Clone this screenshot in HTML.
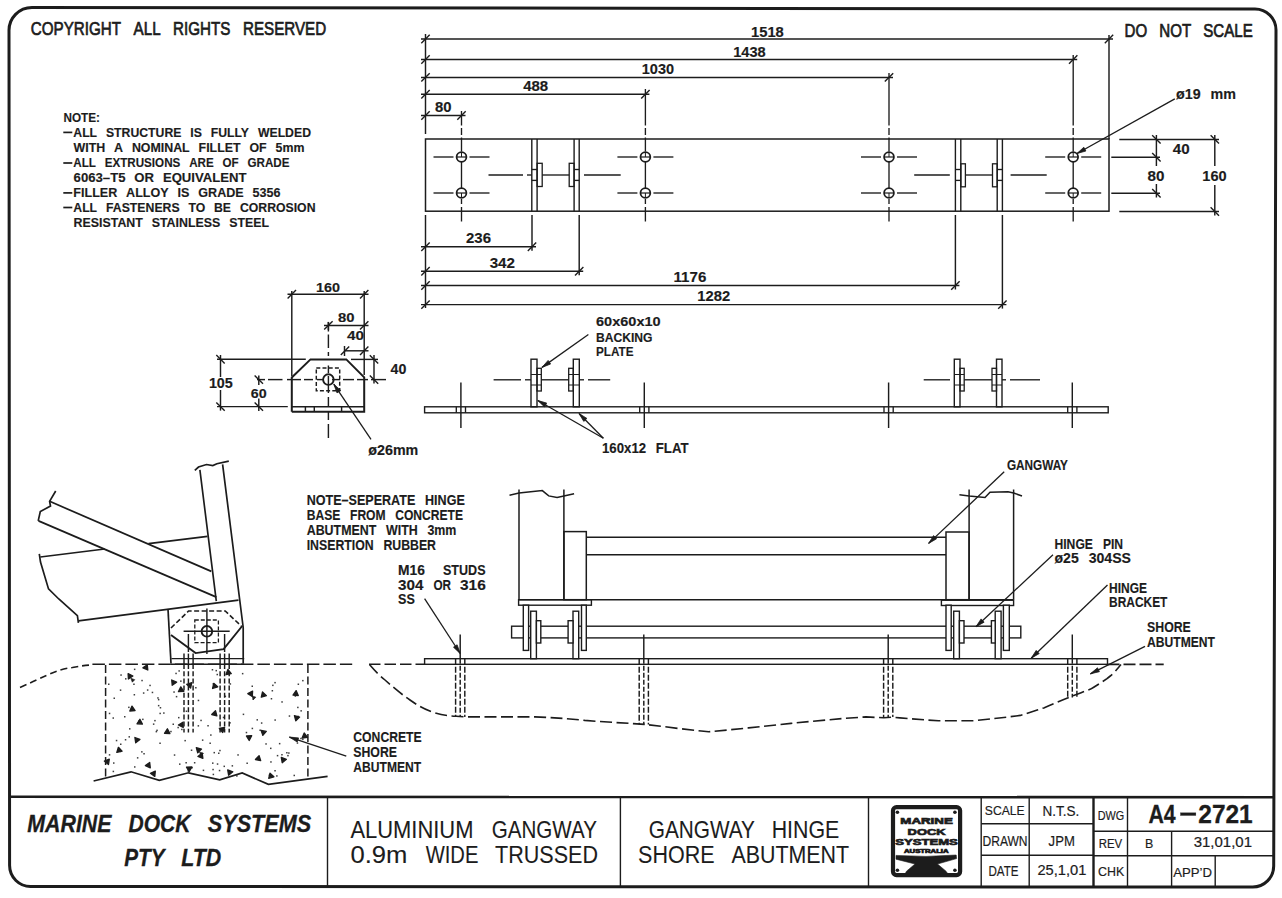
<!DOCTYPE html>
<html><head><meta charset="utf-8"><style>
html,body{margin:0;padding:0;background:#fff;overflow:hidden;width:1282px;height:898px;}
svg{display:block;}
text{font-family:"Liberation Sans",sans-serif;fill:#1c1c1c;}
</style></head><body>
<svg width="1282" height="898" viewBox="0 0 1282 898" stroke-linecap="butt">
<rect width="1282" height="898" fill="#fff"/>
<path d="M9,31 A23,23 0 0 1 32,7.5 L1255,9 A21,21 0 0 1 1276,30 L1273.7,866 A21,21 0 0 1 1252.7,887 L31,886.5 A21,21 0 0 1 9.6,865.5 Z" stroke-width="3" fill="none" stroke="#1c1c1c"/>
<line x1="9.0" y1="796.8" x2="1274.5" y2="797.2" stroke-width="2.6" stroke="#1c1c1c"/>
<line x1="327.5" y1="797.0" x2="327.5" y2="887.0" stroke-width="1.4" stroke="#1c1c1c"/>
<line x1="620.4" y1="797.0" x2="620.4" y2="887.0" stroke-width="1.4" stroke="#1c1c1c"/>
<line x1="868.5" y1="797.0" x2="868.5" y2="887.0" stroke-width="1.4" stroke="#1c1c1c"/>
<line x1="981.2" y1="797.0" x2="981.2" y2="887.0" stroke-width="1.4" stroke="#1c1c1c"/>
<line x1="1029.2" y1="797.0" x2="1029.2" y2="887.0" stroke-width="1.4" stroke="#1c1c1c"/>
<line x1="1127.5" y1="797.0" x2="1127.5" y2="887.0" stroke-width="1.4" stroke="#1c1c1c"/>
<line x1="1093.5" y1="797.0" x2="1093.5" y2="887.0" stroke-width="2.4" stroke="#1c1c1c"/>
<line x1="1171.6" y1="831.2" x2="1171.6" y2="887.0" stroke-width="1.4" stroke="#1c1c1c"/>
<line x1="1215.2" y1="855.8" x2="1215.2" y2="887.0" stroke-width="1.4" stroke="#1c1c1c"/>
<line x1="981.2" y1="823.8" x2="1093.5" y2="823.8" stroke-width="1.4" stroke="#1c1c1c"/>
<line x1="981.2" y1="855.2" x2="1093.5" y2="855.2" stroke-width="1.4" stroke="#1c1c1c"/>
<line x1="1093.5" y1="831.2" x2="1274.0" y2="831.2" stroke-width="1.4" stroke="#1c1c1c"/>
<line x1="1093.5" y1="855.8" x2="1274.0" y2="855.8" stroke-width="1.4" stroke="#1c1c1c"/>
<text x="27.3" y="831.7" font-size="24.02" font-weight="bold" font-style="italic" textLength="84.2" lengthAdjust="spacingAndGlyphs" stroke="#1c1c1c" stroke-width="0.3">MARINE</text>
<text x="128.5" y="831.7" font-size="24.02" font-weight="bold" font-style="italic" textLength="62.0" lengthAdjust="spacingAndGlyphs" stroke="#1c1c1c" stroke-width="0.3">DOCK</text>
<text x="207.8" y="831.7" font-size="24.02" font-weight="bold" font-style="italic" textLength="103.4" lengthAdjust="spacingAndGlyphs" stroke="#1c1c1c" stroke-width="0.3">SYSTEMS</text>
<text x="124.2" y="866.0" font-size="24.44" font-weight="bold" font-style="italic" textLength="40.3" lengthAdjust="spacingAndGlyphs" stroke="#1c1c1c" stroke-width="0.3">PTY</text>
<text x="181.3" y="866.0" font-size="24.44" font-weight="bold" font-style="italic" textLength="40.0" lengthAdjust="spacingAndGlyphs" stroke="#1c1c1c" stroke-width="0.3">LTD</text>
<text x="350.4" y="837.9" font-size="24.02" font-weight="normal" font-style="normal" textLength="123.0" lengthAdjust="spacingAndGlyphs" stroke="#1c1c1c" stroke-width="0.1">ALUMINIUM</text>
<text x="491.8" y="837.9" font-size="24.02" font-weight="normal" font-style="normal" textLength="105.1" lengthAdjust="spacingAndGlyphs" stroke="#1c1c1c" stroke-width="0.1">GANGWAY</text>
<text x="350.4" y="863.4" font-size="24.02" font-weight="normal" font-style="normal" textLength="57.0" lengthAdjust="spacingAndGlyphs" stroke="#1c1c1c" stroke-width="0.1">0.9m</text>
<text x="425.7" y="863.4" font-size="24.02" font-weight="normal" font-style="normal" textLength="52.7" lengthAdjust="spacingAndGlyphs" stroke="#1c1c1c" stroke-width="0.1">WIDE</text>
<text x="495.1" y="863.4" font-size="24.02" font-weight="normal" font-style="normal" textLength="102.9" lengthAdjust="spacingAndGlyphs" stroke="#1c1c1c" stroke-width="0.1">TRUSSED</text>
<text x="648.8" y="838.2" font-size="24.02" font-weight="normal" font-style="normal" textLength="106.1" lengthAdjust="spacingAndGlyphs" stroke="#1c1c1c" stroke-width="0.1">GANGWAY</text>
<text x="771.7" y="838.2" font-size="24.02" font-weight="normal" font-style="normal" textLength="67.5" lengthAdjust="spacingAndGlyphs" stroke="#1c1c1c" stroke-width="0.1">HINGE</text>
<text x="638.1" y="863.4" font-size="24.02" font-weight="normal" font-style="normal" textLength="76.4" lengthAdjust="spacingAndGlyphs" stroke="#1c1c1c" stroke-width="0.1">SHORE</text>
<text x="731.4" y="863.4" font-size="24.02" font-weight="normal" font-style="normal" textLength="117.7" lengthAdjust="spacingAndGlyphs" stroke="#1c1c1c" stroke-width="0.1">ABUTMENT</text>
<text x="984.8" y="815.4" font-size="13.69" font-weight="normal" font-style="normal" textLength="39.8" lengthAdjust="spacingAndGlyphs" stroke="#1c1c1c" stroke-width="0.2">SCALE</text>
<text x="1042.5" y="816.2" font-size="15.22" font-weight="normal" font-style="normal" textLength="36.8" lengthAdjust="spacingAndGlyphs" stroke="#1c1c1c" stroke-width="0.2">N.T.S.</text>
<text x="982.5" y="845.6" font-size="15.22" font-weight="normal" font-style="normal" textLength="45.0" lengthAdjust="spacingAndGlyphs" stroke="#1c1c1c" stroke-width="0.2">DRAWN</text>
<text x="1048.6" y="845.6" font-size="15.36" font-weight="normal" font-style="normal" textLength="26.2" lengthAdjust="spacingAndGlyphs" stroke="#1c1c1c" stroke-width="0.2">JPM</text>
<text x="988.5" y="876.0" font-size="14.66" font-weight="normal" font-style="normal" textLength="30.0" lengthAdjust="spacingAndGlyphs" stroke="#1c1c1c" stroke-width="0.2">DATE</text>
<text x="1037.4" y="875.4" font-size="14.66" font-weight="normal" font-style="normal" textLength="49.0" lengthAdjust="spacingAndGlyphs" stroke="#1c1c1c" stroke-width="0.2">25,1,01</text>
<text x="1097.7" y="819.6" font-size="13.27" font-weight="normal" font-style="normal" textLength="26.5" lengthAdjust="spacingAndGlyphs" stroke="#1c1c1c" stroke-width="0.2">DWG</text>
<text x="1148.4" y="822.7" font-size="25.00" font-weight="bold" font-style="normal" textLength="27.2" lengthAdjust="spacingAndGlyphs" stroke="#1c1c1c" stroke-width="0.3">A4</text>
<rect x="1180.7" y="812.9" width="15.1" height="2.4" stroke-width="0.5" fill="#1c1c1c" stroke="#1c1c1c"/>
<text x="1198.3" y="822.7" font-size="25.00" font-weight="bold" font-style="normal" textLength="54.4" lengthAdjust="spacingAndGlyphs" stroke="#1c1c1c" stroke-width="0.3">2721</text>
<text x="1098.7" y="848.2" font-size="13.69" font-weight="normal" font-style="normal" textLength="23.5" lengthAdjust="spacingAndGlyphs" stroke="#1c1c1c" stroke-width="0.2">REV</text>
<text x="1145.0" y="848.2" font-size="12.85" font-weight="normal" font-style="normal" textLength="8.3" lengthAdjust="spacingAndGlyphs" stroke="#1c1c1c" stroke-width="0.2">B</text>
<text x="1193.7" y="846.8" font-size="14.25" font-weight="normal" font-style="normal" textLength="58.3" lengthAdjust="spacingAndGlyphs" stroke="#1c1c1c" stroke-width="0.2">31,01,01</text>
<text x="1098.0" y="876.2" font-size="13.69" font-weight="normal" font-style="normal" textLength="26.2" lengthAdjust="spacingAndGlyphs" stroke="#1c1c1c" stroke-width="0.2">CHK</text>
<text x="1173.3" y="876.9" font-size="13.69" font-weight="normal" font-style="normal" textLength="38.7" lengthAdjust="spacingAndGlyphs" stroke="#1c1c1c" stroke-width="0.2">APP&#8217;D</text>
<rect x="893" y="807.1" width="67.1" height="68" rx="3.5" fill="none" stroke="#1c1c1c" stroke-width="4.2"/>
<circle cx="897.4" cy="812.3" r="1.8" stroke-width="0" fill="#1c1c1c" stroke="#1c1c1c"/>
<circle cx="954.9" cy="812.3" r="1.8" stroke-width="0" fill="#1c1c1c" stroke="#1c1c1c"/>
<circle cx="897.4" cy="870.3" r="1.8" stroke-width="0" fill="#1c1c1c" stroke="#1c1c1c"/>
<circle cx="954.9" cy="870.3" r="1.8" stroke-width="0" fill="#1c1c1c" stroke="#1c1c1c"/>
<text x="900.3" y="824.4" font-size="9.08" font-weight="bold" textLength="52.5" lengthAdjust="spacingAndGlyphs" stroke="#1c1c1c" stroke-width="0.7">MARINE</text>
<text x="907.6" y="834.9" font-size="9.08" font-weight="bold" textLength="37.9" lengthAdjust="spacingAndGlyphs" stroke="#1c1c1c" stroke-width="0.7">DOCK</text>
<text x="895.3" y="845.1" font-size="9.08" font-weight="bold" textLength="62.5" lengthAdjust="spacingAndGlyphs" stroke="#1c1c1c" stroke-width="0.7">SYSTEMS</text>
<text x="904" y="853.3" font-size="5.45" font-weight="bold" textLength="44.6" lengthAdjust="spacingAndGlyphs" stroke="#1c1c1c" stroke-width="0.7">AUSTRALIA</text>
<path d="M896,855.4 L926,856.4 L956.2,855 L956.6,858.6 L937.5,864 L946,871.2 L948,874 L905,874 L906.5,871.2 L915,864 L896,859.2 Z" stroke-width="0.6" fill="#1c1c1c" stroke="#1c1c1c"/>
<text x="30.8" y="35.0" font-size="18.44" font-weight="normal" font-style="normal" textLength="90.2" lengthAdjust="spacingAndGlyphs" stroke="#1c1c1c" stroke-width="0.7">COPYRIGHT</text>
<text x="133.6" y="35.0" font-size="18.44" font-weight="normal" font-style="normal" textLength="27.0" lengthAdjust="spacingAndGlyphs" stroke="#1c1c1c" stroke-width="0.7">ALL</text>
<text x="173.1" y="35.0" font-size="18.44" font-weight="normal" font-style="normal" textLength="57.3" lengthAdjust="spacingAndGlyphs" stroke="#1c1c1c" stroke-width="0.7">RIGHTS</text>
<text x="243.0" y="35.0" font-size="18.44" font-weight="normal" font-style="normal" textLength="83.2" lengthAdjust="spacingAndGlyphs" stroke="#1c1c1c" stroke-width="0.7">RESERVED</text>
<text x="1124.5" y="36.6" font-size="17.88" font-weight="normal" font-style="normal" textLength="22.6" lengthAdjust="spacingAndGlyphs" stroke="#1c1c1c" stroke-width="0.7">DO</text>
<text x="1159.3" y="36.6" font-size="17.88" font-weight="normal" font-style="normal" textLength="31.9" lengthAdjust="spacingAndGlyphs" stroke="#1c1c1c" stroke-width="0.7">NOT</text>
<text x="1203.3" y="36.6" font-size="17.88" font-weight="normal" font-style="normal" textLength="49.5" lengthAdjust="spacingAndGlyphs" stroke="#1c1c1c" stroke-width="0.7">SCALE</text>
<text x="63.5" y="121.8" font-size="12.99" font-weight="bold" font-style="normal" textLength="36.5" lengthAdjust="spacingAndGlyphs" stroke="#1c1c1c" stroke-width="0.15">NOTE:</text>
<text x="73.3" y="136.7" font-size="12.99" font-weight="bold" font-style="normal" textLength="23.8" lengthAdjust="spacingAndGlyphs" stroke="#1c1c1c" stroke-width="0.15">ALL</text>
<text x="105.9" y="136.7" font-size="12.99" font-weight="bold" font-style="normal" textLength="75.5" lengthAdjust="spacingAndGlyphs" stroke="#1c1c1c" stroke-width="0.15">STRUCTURE</text>
<text x="190.3" y="136.7" font-size="12.99" font-weight="bold" font-style="normal" textLength="11.6" lengthAdjust="spacingAndGlyphs" stroke="#1c1c1c" stroke-width="0.15">IS</text>
<text x="210.7" y="136.7" font-size="12.99" font-weight="bold" font-style="normal" textLength="38.3" lengthAdjust="spacingAndGlyphs" stroke="#1c1c1c" stroke-width="0.15">FULLY</text>
<text x="257.9" y="136.7" font-size="12.99" font-weight="bold" font-style="normal" textLength="53.1" lengthAdjust="spacingAndGlyphs" stroke="#1c1c1c" stroke-width="0.15">WELDED</text>
<line x1="63.3" y1="132.4" x2="72.3" y2="132.4" stroke-width="1.7" stroke="#1c1c1c"/>
<text x="73.6" y="152.0" font-size="12.99" font-weight="bold" font-style="normal" textLength="31.7" lengthAdjust="spacingAndGlyphs" stroke="#1c1c1c" stroke-width="0.15">WITH</text>
<text x="114.1" y="152.0" font-size="12.99" font-weight="bold" font-style="normal" textLength="9.0" lengthAdjust="spacingAndGlyphs" stroke="#1c1c1c" stroke-width="0.15">A</text>
<text x="131.9" y="152.0" font-size="12.99" font-weight="bold" font-style="normal" textLength="57.8" lengthAdjust="spacingAndGlyphs" stroke="#1c1c1c" stroke-width="0.15">NOMINAL</text>
<text x="198.6" y="152.0" font-size="12.99" font-weight="bold" font-style="normal" textLength="42.0" lengthAdjust="spacingAndGlyphs" stroke="#1c1c1c" stroke-width="0.15">FILLET</text>
<text x="249.4" y="152.0" font-size="12.99" font-weight="bold" font-style="normal" textLength="17.2" lengthAdjust="spacingAndGlyphs" stroke="#1c1c1c" stroke-width="0.15">OF</text>
<text x="275.5" y="152.0" font-size="12.99" font-weight="bold" font-style="normal" textLength="28.9" lengthAdjust="spacingAndGlyphs" stroke="#1c1c1c" stroke-width="0.15">5mm</text>
<text x="73.3" y="167.3" font-size="12.99" font-weight="bold" font-style="normal" textLength="22.6" lengthAdjust="spacingAndGlyphs" stroke="#1c1c1c" stroke-width="0.15">ALL</text>
<text x="104.7" y="167.3" font-size="12.99" font-weight="bold" font-style="normal" textLength="75.6" lengthAdjust="spacingAndGlyphs" stroke="#1c1c1c" stroke-width="0.15">EXTRUSIONS</text>
<text x="189.2" y="167.3" font-size="12.99" font-weight="bold" font-style="normal" textLength="24.5" lengthAdjust="spacingAndGlyphs" stroke="#1c1c1c" stroke-width="0.15">ARE</text>
<text x="222.5" y="167.3" font-size="12.99" font-weight="bold" font-style="normal" textLength="16.1" lengthAdjust="spacingAndGlyphs" stroke="#1c1c1c" stroke-width="0.15">OF</text>
<text x="247.5" y="167.3" font-size="12.99" font-weight="bold" font-style="normal" textLength="42.0" lengthAdjust="spacingAndGlyphs" stroke="#1c1c1c" stroke-width="0.15">GRADE</text>
<line x1="63.3" y1="163.0" x2="72.3" y2="163.0" stroke-width="1.7" stroke="#1c1c1c"/>
<text x="73.6" y="181.9" font-size="12.99" font-weight="bold" font-style="normal" textLength="51.9" lengthAdjust="spacingAndGlyphs" stroke="#1c1c1c" stroke-width="0.15">6063&#8211;T5</text>
<text x="134.3" y="181.9" font-size="12.99" font-weight="bold" font-style="normal" textLength="19.7" lengthAdjust="spacingAndGlyphs" stroke="#1c1c1c" stroke-width="0.15">OR</text>
<text x="162.9" y="181.9" font-size="12.99" font-weight="bold" font-style="normal" textLength="83.7" lengthAdjust="spacingAndGlyphs" stroke="#1c1c1c" stroke-width="0.15">EQUIVALENT</text>
<text x="73.3" y="197.2" font-size="12.99" font-weight="bold" font-style="normal" textLength="44.0" lengthAdjust="spacingAndGlyphs" stroke="#1c1c1c" stroke-width="0.15">FILLER</text>
<text x="126.1" y="197.2" font-size="12.99" font-weight="bold" font-style="normal" textLength="42.6" lengthAdjust="spacingAndGlyphs" stroke="#1c1c1c" stroke-width="0.15">ALLOY</text>
<text x="177.6" y="197.2" font-size="12.99" font-weight="bold" font-style="normal" textLength="11.9" lengthAdjust="spacingAndGlyphs" stroke="#1c1c1c" stroke-width="0.15">IS</text>
<text x="198.3" y="197.2" font-size="12.99" font-weight="bold" font-style="normal" textLength="45.4" lengthAdjust="spacingAndGlyphs" stroke="#1c1c1c" stroke-width="0.15">GRADE</text>
<text x="252.5" y="197.2" font-size="12.99" font-weight="bold" font-style="normal" textLength="28.0" lengthAdjust="spacingAndGlyphs" stroke="#1c1c1c" stroke-width="0.15">5356</text>
<line x1="63.3" y1="192.9" x2="72.3" y2="192.9" stroke-width="1.7" stroke="#1c1c1c"/>
<text x="73.3" y="211.8" font-size="12.99" font-weight="bold" font-style="normal" textLength="23.8" lengthAdjust="spacingAndGlyphs" stroke="#1c1c1c" stroke-width="0.15">ALL</text>
<text x="106.0" y="211.8" font-size="12.99" font-weight="bold" font-style="normal" textLength="73.6" lengthAdjust="spacingAndGlyphs" stroke="#1c1c1c" stroke-width="0.15">FASTENERS</text>
<text x="188.4" y="211.8" font-size="12.99" font-weight="bold" font-style="normal" textLength="16.8" lengthAdjust="spacingAndGlyphs" stroke="#1c1c1c" stroke-width="0.15">TO</text>
<text x="214.0" y="211.8" font-size="12.99" font-weight="bold" font-style="normal" textLength="17.0" lengthAdjust="spacingAndGlyphs" stroke="#1c1c1c" stroke-width="0.15">BE</text>
<text x="239.9" y="211.8" font-size="12.99" font-weight="bold" font-style="normal" textLength="75.6" lengthAdjust="spacingAndGlyphs" stroke="#1c1c1c" stroke-width="0.15">CORROSION</text>
<line x1="63.3" y1="207.5" x2="72.3" y2="207.5" stroke-width="1.7" stroke="#1c1c1c"/>
<text x="73.6" y="226.7" font-size="12.99" font-weight="bold" font-style="normal" textLength="69.3" lengthAdjust="spacingAndGlyphs" stroke="#1c1c1c" stroke-width="0.15">RESISTANT</text>
<text x="151.7" y="226.7" font-size="12.99" font-weight="bold" font-style="normal" textLength="68.6" lengthAdjust="spacingAndGlyphs" stroke="#1c1c1c" stroke-width="0.15">STAINLESS</text>
<text x="229.2" y="226.7" font-size="12.99" font-weight="bold" font-style="normal" textLength="39.9" lengthAdjust="spacingAndGlyphs" stroke="#1c1c1c" stroke-width="0.15">STEEL</text>
<rect x="425.5" y="139.0" width="683.5" height="72.2" stroke-width="1.5" fill="none" stroke="#1c1c1c"/>
<line x1="531.8" y1="139.0" x2="531.8" y2="211.2" stroke-width="1.4" stroke="#1c1c1c"/>
<line x1="537.1" y1="139.0" x2="537.1" y2="211.2" stroke-width="1.4" stroke="#1c1c1c"/>
<line x1="574.1" y1="139.0" x2="574.1" y2="211.2" stroke-width="1.4" stroke="#1c1c1c"/>
<line x1="579.2" y1="139.0" x2="579.2" y2="211.2" stroke-width="1.4" stroke="#1c1c1c"/>
<line x1="955.4" y1="139.0" x2="955.4" y2="211.2" stroke-width="1.4" stroke="#1c1c1c"/>
<line x1="960.8" y1="139.0" x2="960.8" y2="211.2" stroke-width="1.4" stroke="#1c1c1c"/>
<line x1="997.2" y1="139.0" x2="997.2" y2="211.2" stroke-width="1.4" stroke="#1c1c1c"/>
<line x1="1002.4" y1="139.0" x2="1002.4" y2="211.2" stroke-width="1.4" stroke="#1c1c1c"/>
<rect x="537.1" y="163.3" width="5.1" height="23.2" stroke-width="1.3" fill="none" stroke="#1c1c1c"/>
<rect x="569.2" y="163.3" width="4.9" height="23.2" stroke-width="1.3" fill="none" stroke="#1c1c1c"/>
<rect x="960.8" y="163.8" width="4.6" height="23.0" stroke-width="1.3" fill="none" stroke="#1c1c1c"/>
<rect x="992.5" y="163.8" width="4.7" height="23.0" stroke-width="1.3" fill="none" stroke="#1c1c1c"/>
<line x1="531.8" y1="169.5" x2="537.1" y2="169.5" stroke-width="1.35" stroke="#1c1c1c"/>
<line x1="531.8" y1="180.4" x2="537.1" y2="180.4" stroke-width="1.35" stroke="#1c1c1c"/>
<line x1="574.1" y1="169.5" x2="579.2" y2="169.5" stroke-width="1.35" stroke="#1c1c1c"/>
<line x1="574.1" y1="180.4" x2="579.2" y2="180.4" stroke-width="1.35" stroke="#1c1c1c"/>
<line x1="955.4" y1="169.5" x2="960.8" y2="169.5" stroke-width="1.35" stroke="#1c1c1c"/>
<line x1="955.4" y1="180.4" x2="960.8" y2="180.4" stroke-width="1.35" stroke="#1c1c1c"/>
<line x1="997.2" y1="169.5" x2="1002.4" y2="169.5" stroke-width="1.35" stroke="#1c1c1c"/>
<line x1="997.2" y1="180.4" x2="1002.4" y2="180.4" stroke-width="1.35" stroke="#1c1c1c"/>
<line x1="488.5" y1="175.0" x2="523.0" y2="175.0" stroke-width="1.35" stroke="#1c1c1c"/>
<line x1="527.0" y1="175.0" x2="531.8" y2="175.0" stroke-width="1.35" stroke="#1c1c1c"/>
<line x1="542.2" y1="175.0" x2="569.2" y2="175.0" stroke-width="1.35" stroke="#1c1c1c"/>
<line x1="584.0" y1="175.0" x2="620.7" y2="175.0" stroke-width="1.35" stroke="#1c1c1c"/>
<line x1="914.2" y1="175.0" x2="949.8" y2="175.0" stroke-width="1.35" stroke="#1c1c1c"/>
<line x1="965.4" y1="175.0" x2="992.5" y2="175.0" stroke-width="1.35" stroke="#1c1c1c"/>
<line x1="1010.6" y1="175.0" x2="1046.7" y2="175.0" stroke-width="1.35" stroke="#1c1c1c"/>
<circle cx="461.5" cy="157.0" r="4.9" stroke-width="1.8" fill="none" stroke="#1c1c1c"/>
<line x1="456.7" y1="157.0" x2="466.3" y2="157.0" stroke-width="1.2" stroke="#1c1c1c"/>
<line x1="461.5" y1="157.0" x2="461.5" y2="152.2" stroke-width="1.0" stroke="#1c1c1c"/>
<line x1="433.5" y1="157.0" x2="453.5" y2="157.0" stroke-width="1.35" stroke="#1c1c1c"/>
<line x1="469.5" y1="157.0" x2="489.5" y2="157.0" stroke-width="1.35" stroke="#1c1c1c"/>
<circle cx="461.5" cy="193.0" r="4.9" stroke-width="1.8" fill="none" stroke="#1c1c1c"/>
<line x1="456.7" y1="193.0" x2="466.3" y2="193.0" stroke-width="1.2" stroke="#1c1c1c"/>
<line x1="461.5" y1="193.0" x2="461.5" y2="197.8" stroke-width="1.0" stroke="#1c1c1c"/>
<line x1="433.5" y1="193.0" x2="453.5" y2="193.0" stroke-width="1.35" stroke="#1c1c1c"/>
<line x1="469.5" y1="193.0" x2="489.5" y2="193.0" stroke-width="1.35" stroke="#1c1c1c"/>
<line x1="461.5" y1="161.9" x2="461.5" y2="188.1" stroke-width="1.35" stroke="#1c1c1c"/>
<line x1="461.5" y1="128.0" x2="461.5" y2="135.0" stroke-width="1.35" stroke="#1c1c1c"/>
<line x1="461.5" y1="137.5" x2="461.5" y2="151.5" stroke-width="1.35" stroke="#1c1c1c"/>
<line x1="461.5" y1="199.0" x2="461.5" y2="204.0" stroke-width="1.35" stroke="#1c1c1c"/>
<line x1="461.5" y1="207.0" x2="461.5" y2="221.5" stroke-width="1.35" stroke="#1c1c1c"/>
<circle cx="645.4" cy="157.0" r="4.9" stroke-width="1.8" fill="none" stroke="#1c1c1c"/>
<line x1="640.6" y1="157.0" x2="650.2" y2="157.0" stroke-width="1.2" stroke="#1c1c1c"/>
<line x1="645.4" y1="157.0" x2="645.4" y2="152.2" stroke-width="1.0" stroke="#1c1c1c"/>
<line x1="617.4" y1="157.0" x2="637.4" y2="157.0" stroke-width="1.35" stroke="#1c1c1c"/>
<line x1="653.4" y1="157.0" x2="673.4" y2="157.0" stroke-width="1.35" stroke="#1c1c1c"/>
<circle cx="645.4" cy="193.0" r="4.9" stroke-width="1.8" fill="none" stroke="#1c1c1c"/>
<line x1="640.6" y1="193.0" x2="650.2" y2="193.0" stroke-width="1.2" stroke="#1c1c1c"/>
<line x1="645.4" y1="193.0" x2="645.4" y2="197.8" stroke-width="1.0" stroke="#1c1c1c"/>
<line x1="617.4" y1="193.0" x2="637.4" y2="193.0" stroke-width="1.35" stroke="#1c1c1c"/>
<line x1="653.4" y1="193.0" x2="673.4" y2="193.0" stroke-width="1.35" stroke="#1c1c1c"/>
<line x1="645.4" y1="161.9" x2="645.4" y2="188.1" stroke-width="1.35" stroke="#1c1c1c"/>
<line x1="645.4" y1="128.0" x2="645.4" y2="135.0" stroke-width="1.35" stroke="#1c1c1c"/>
<line x1="645.4" y1="137.5" x2="645.4" y2="151.5" stroke-width="1.35" stroke="#1c1c1c"/>
<line x1="645.4" y1="199.0" x2="645.4" y2="204.0" stroke-width="1.35" stroke="#1c1c1c"/>
<line x1="645.4" y1="207.0" x2="645.4" y2="221.5" stroke-width="1.35" stroke="#1c1c1c"/>
<circle cx="889.0" cy="157.0" r="4.9" stroke-width="1.8" fill="none" stroke="#1c1c1c"/>
<line x1="884.2" y1="157.0" x2="893.8" y2="157.0" stroke-width="1.2" stroke="#1c1c1c"/>
<line x1="889.0" y1="157.0" x2="889.0" y2="152.2" stroke-width="1.0" stroke="#1c1c1c"/>
<line x1="861.0" y1="157.0" x2="881.0" y2="157.0" stroke-width="1.35" stroke="#1c1c1c"/>
<line x1="897.0" y1="157.0" x2="917.0" y2="157.0" stroke-width="1.35" stroke="#1c1c1c"/>
<circle cx="889.0" cy="193.0" r="4.9" stroke-width="1.8" fill="none" stroke="#1c1c1c"/>
<line x1="884.2" y1="193.0" x2="893.8" y2="193.0" stroke-width="1.2" stroke="#1c1c1c"/>
<line x1="889.0" y1="193.0" x2="889.0" y2="197.8" stroke-width="1.0" stroke="#1c1c1c"/>
<line x1="861.0" y1="193.0" x2="881.0" y2="193.0" stroke-width="1.35" stroke="#1c1c1c"/>
<line x1="897.0" y1="193.0" x2="917.0" y2="193.0" stroke-width="1.35" stroke="#1c1c1c"/>
<line x1="889.0" y1="161.9" x2="889.0" y2="188.1" stroke-width="1.35" stroke="#1c1c1c"/>
<line x1="889.0" y1="128.0" x2="889.0" y2="135.0" stroke-width="1.35" stroke="#1c1c1c"/>
<line x1="889.0" y1="137.5" x2="889.0" y2="151.5" stroke-width="1.35" stroke="#1c1c1c"/>
<line x1="889.0" y1="199.0" x2="889.0" y2="204.0" stroke-width="1.35" stroke="#1c1c1c"/>
<line x1="889.0" y1="207.0" x2="889.0" y2="221.5" stroke-width="1.35" stroke="#1c1c1c"/>
<circle cx="1073.2" cy="157.0" r="4.9" stroke-width="1.8" fill="none" stroke="#1c1c1c"/>
<line x1="1068.4" y1="157.0" x2="1078.0" y2="157.0" stroke-width="1.2" stroke="#1c1c1c"/>
<line x1="1073.2" y1="157.0" x2="1073.2" y2="152.2" stroke-width="1.0" stroke="#1c1c1c"/>
<line x1="1045.2" y1="157.0" x2="1065.2" y2="157.0" stroke-width="1.35" stroke="#1c1c1c"/>
<line x1="1081.2" y1="157.0" x2="1101.2" y2="157.0" stroke-width="1.35" stroke="#1c1c1c"/>
<circle cx="1073.2" cy="193.0" r="4.9" stroke-width="1.8" fill="none" stroke="#1c1c1c"/>
<line x1="1068.4" y1="193.0" x2="1078.0" y2="193.0" stroke-width="1.2" stroke="#1c1c1c"/>
<line x1="1073.2" y1="193.0" x2="1073.2" y2="197.8" stroke-width="1.0" stroke="#1c1c1c"/>
<line x1="1045.2" y1="193.0" x2="1065.2" y2="193.0" stroke-width="1.35" stroke="#1c1c1c"/>
<line x1="1081.2" y1="193.0" x2="1101.2" y2="193.0" stroke-width="1.35" stroke="#1c1c1c"/>
<line x1="1073.2" y1="161.9" x2="1073.2" y2="188.1" stroke-width="1.35" stroke="#1c1c1c"/>
<line x1="1073.2" y1="128.0" x2="1073.2" y2="135.0" stroke-width="1.35" stroke="#1c1c1c"/>
<line x1="1073.2" y1="137.5" x2="1073.2" y2="151.5" stroke-width="1.35" stroke="#1c1c1c"/>
<line x1="1073.2" y1="199.0" x2="1073.2" y2="204.0" stroke-width="1.35" stroke="#1c1c1c"/>
<line x1="1073.2" y1="207.0" x2="1073.2" y2="221.5" stroke-width="1.35" stroke="#1c1c1c"/>
<line x1="425.5" y1="34.0" x2="425.5" y2="134.0" stroke-width="1.45" stroke="#1c1c1c"/>
<line x1="421.0" y1="39.0" x2="1113.0" y2="39.0" stroke-width="1.45" stroke="#1c1c1c"/>
<line x1="421.3" y1="43.2" x2="429.7" y2="34.8" stroke-width="1.4" stroke="#1c1c1c"/>
<line x1="1104.8" y1="43.2" x2="1113.2" y2="34.8" stroke-width="1.4" stroke="#1c1c1c"/>
<text x="751.0" y="36.5" font-size="14.53" font-weight="bold" font-style="normal" textLength="32.8" lengthAdjust="spacingAndGlyphs" stroke="#1c1c1c" stroke-width="0.15">1518</text>
<line x1="421.0" y1="59.5" x2="1077.2" y2="59.5" stroke-width="1.45" stroke="#1c1c1c"/>
<line x1="421.3" y1="63.7" x2="429.7" y2="55.3" stroke-width="1.4" stroke="#1c1c1c"/>
<line x1="1069.0" y1="63.7" x2="1077.4" y2="55.3" stroke-width="1.4" stroke="#1c1c1c"/>
<text x="733.2" y="57.1" font-size="14.53" font-weight="bold" font-style="normal" textLength="32.5" lengthAdjust="spacingAndGlyphs" stroke="#1c1c1c" stroke-width="0.15">1438</text>
<line x1="421.0" y1="77.4" x2="893.0" y2="77.4" stroke-width="1.45" stroke="#1c1c1c"/>
<line x1="421.3" y1="81.6" x2="429.7" y2="73.2" stroke-width="1.4" stroke="#1c1c1c"/>
<line x1="884.8" y1="81.6" x2="893.2" y2="73.2" stroke-width="1.4" stroke="#1c1c1c"/>
<text x="641.8" y="74.3" font-size="14.53" font-weight="bold" font-style="normal" textLength="32.2" lengthAdjust="spacingAndGlyphs" stroke="#1c1c1c" stroke-width="0.15">1030</text>
<line x1="421.0" y1="94.3" x2="649.4" y2="94.3" stroke-width="1.45" stroke="#1c1c1c"/>
<line x1="421.3" y1="98.5" x2="429.7" y2="90.1" stroke-width="1.4" stroke="#1c1c1c"/>
<line x1="641.2" y1="98.5" x2="649.6" y2="90.1" stroke-width="1.4" stroke="#1c1c1c"/>
<text x="523.2" y="90.8" font-size="14.53" font-weight="bold" font-style="normal" textLength="25.0" lengthAdjust="spacingAndGlyphs" stroke="#1c1c1c" stroke-width="0.15">488</text>
<line x1="421.0" y1="115.5" x2="465.5" y2="115.5" stroke-width="1.45" stroke="#1c1c1c"/>
<line x1="421.3" y1="119.7" x2="429.7" y2="111.3" stroke-width="1.4" stroke="#1c1c1c"/>
<line x1="457.3" y1="119.7" x2="465.7" y2="111.3" stroke-width="1.4" stroke="#1c1c1c"/>
<text x="435.0" y="111.8" font-size="14.53" font-weight="bold" font-style="normal" textLength="16.5" lengthAdjust="spacingAndGlyphs" stroke="#1c1c1c" stroke-width="0.15">80</text>
<line x1="1109.0" y1="35.0" x2="1109.0" y2="139.0" stroke-width="1.45" stroke="#1c1c1c"/>
<line x1="1073.2" y1="55.0" x2="1073.2" y2="125.5" stroke-width="1.35" stroke="#1c1c1c"/>
<line x1="889.0" y1="73.0" x2="889.0" y2="125.5" stroke-width="1.35" stroke="#1c1c1c"/>
<line x1="645.4" y1="89.0" x2="645.4" y2="125.5" stroke-width="1.35" stroke="#1c1c1c"/>
<line x1="461.5" y1="111.0" x2="461.5" y2="125.5" stroke-width="1.35" stroke="#1c1c1c"/>
<line x1="425.5" y1="215.0" x2="425.5" y2="308.0" stroke-width="1.45" stroke="#1c1c1c"/>
<line x1="421.0" y1="246.7" x2="536.0" y2="246.7" stroke-width="1.45" stroke="#1c1c1c"/>
<line x1="421.3" y1="250.9" x2="429.7" y2="242.5" stroke-width="1.4" stroke="#1c1c1c"/>
<line x1="527.8" y1="250.9" x2="536.2" y2="242.5" stroke-width="1.4" stroke="#1c1c1c"/>
<line x1="532.0" y1="215.0" x2="532.0" y2="250.7" stroke-width="1.45" stroke="#1c1c1c"/>
<text x="466.0" y="243.0" font-size="14.53" font-weight="bold" font-style="normal" textLength="25.0" lengthAdjust="spacingAndGlyphs" stroke="#1c1c1c" stroke-width="0.15">236</text>
<line x1="421.0" y1="271.2" x2="583.2" y2="271.2" stroke-width="1.45" stroke="#1c1c1c"/>
<line x1="421.3" y1="275.4" x2="429.7" y2="267.0" stroke-width="1.4" stroke="#1c1c1c"/>
<line x1="575.0" y1="275.4" x2="583.4" y2="267.0" stroke-width="1.4" stroke="#1c1c1c"/>
<line x1="579.2" y1="215.0" x2="579.2" y2="275.2" stroke-width="1.45" stroke="#1c1c1c"/>
<text x="489.7" y="267.6" font-size="14.53" font-weight="bold" font-style="normal" textLength="25.3" lengthAdjust="spacingAndGlyphs" stroke="#1c1c1c" stroke-width="0.15">342</text>
<line x1="421.0" y1="285.5" x2="959.4" y2="285.5" stroke-width="1.45" stroke="#1c1c1c"/>
<line x1="421.3" y1="289.7" x2="429.7" y2="281.3" stroke-width="1.4" stroke="#1c1c1c"/>
<line x1="951.2" y1="289.7" x2="959.6" y2="281.3" stroke-width="1.4" stroke="#1c1c1c"/>
<line x1="955.4" y1="215.0" x2="955.4" y2="289.5" stroke-width="1.45" stroke="#1c1c1c"/>
<text x="673.5" y="281.7" font-size="14.53" font-weight="bold" font-style="normal" textLength="32.8" lengthAdjust="spacingAndGlyphs" stroke="#1c1c1c" stroke-width="0.15">1176</text>
<line x1="421.0" y1="304.6" x2="1006.4" y2="304.6" stroke-width="1.45" stroke="#1c1c1c"/>
<line x1="421.3" y1="308.8" x2="429.7" y2="300.4" stroke-width="1.4" stroke="#1c1c1c"/>
<line x1="998.2" y1="308.8" x2="1006.6" y2="300.4" stroke-width="1.4" stroke="#1c1c1c"/>
<line x1="1002.4" y1="215.0" x2="1002.4" y2="308.6" stroke-width="1.45" stroke="#1c1c1c"/>
<text x="697.3" y="301.1" font-size="14.53" font-weight="bold" font-style="normal" textLength="32.9" lengthAdjust="spacingAndGlyphs" stroke="#1c1c1c" stroke-width="0.15">1282</text>
<line x1="1119.3" y1="139.4" x2="1219.0" y2="139.4" stroke-width="1.45" stroke="#1c1c1c"/>
<line x1="1119.3" y1="211.5" x2="1219.0" y2="211.5" stroke-width="1.45" stroke="#1c1c1c"/>
<line x1="1111.3" y1="157.3" x2="1160.0" y2="157.3" stroke-width="1.45" stroke="#1c1c1c"/>
<line x1="1111.3" y1="193.2" x2="1160.0" y2="193.2" stroke-width="1.45" stroke="#1c1c1c"/>
<line x1="1156.4" y1="135.0" x2="1156.4" y2="166.0" stroke-width="1.45" stroke="#1c1c1c"/>
<line x1="1156.4" y1="184.0" x2="1156.4" y2="197.5" stroke-width="1.45" stroke="#1c1c1c"/>
<line x1="1152.2" y1="135.2" x2="1160.6" y2="143.6" stroke-width="1.4" stroke="#1c1c1c"/>
<line x1="1152.2" y1="153.1" x2="1160.6" y2="161.5" stroke-width="1.4" stroke="#1c1c1c"/>
<line x1="1152.2" y1="189.0" x2="1160.6" y2="197.4" stroke-width="1.4" stroke="#1c1c1c"/>
<line x1="1214.8" y1="135.0" x2="1214.8" y2="166.0" stroke-width="1.45" stroke="#1c1c1c"/>
<line x1="1214.8" y1="185.0" x2="1214.8" y2="215.5" stroke-width="1.45" stroke="#1c1c1c"/>
<line x1="1210.6" y1="135.2" x2="1219.0" y2="143.6" stroke-width="1.4" stroke="#1c1c1c"/>
<line x1="1210.6" y1="207.3" x2="1219.0" y2="215.7" stroke-width="1.4" stroke="#1c1c1c"/>
<text x="1172.7" y="153.7" font-size="14.11" font-weight="bold" font-style="normal" textLength="16.9" lengthAdjust="spacingAndGlyphs" stroke="#1c1c1c" stroke-width="0.15">40</text>
<text x="1147.5" y="180.7" font-size="14.25" font-weight="bold" font-style="normal" textLength="16.9" lengthAdjust="spacingAndGlyphs" stroke="#1c1c1c" stroke-width="0.15">80</text>
<text x="1202.3" y="180.7" font-size="14.25" font-weight="bold" font-style="normal" textLength="24.3" lengthAdjust="spacingAndGlyphs" stroke="#1c1c1c" stroke-width="0.15">160</text>
<line x1="1174.8" y1="98.9" x2="1077.0" y2="153.5" stroke-width="1.3" stroke="#1c1c1c"/>
<path d="M1077.0,153.5 L1083.8,147.2 L1085.9,151.0 Z" fill="#1c1c1c" stroke="#1c1c1c" stroke-width="0.8"/>
<text x="1176.0" y="99.4" font-size="14.39" font-weight="bold" font-style="normal" textLength="24.6" lengthAdjust="spacingAndGlyphs" stroke="#1c1c1c" stroke-width="0.15">&#248;19</text>
<text x="1210.6" y="99.4" font-size="14.39" font-weight="bold" font-style="normal" textLength="25.4" lengthAdjust="spacingAndGlyphs" stroke="#1c1c1c" stroke-width="0.15">mm</text>
<path d="M291.8,411.8 L291.8,377.5 L310.5,359.4 L346.3,359.4 L364.2,377.3 L364.2,411.8 L291.8,411.8" stroke-width="2" fill="none" stroke="#1c1c1c"/>
<line x1="291.8" y1="406.8" x2="364.2" y2="406.8" stroke-width="1.6" stroke="#1c1c1c"/>
<line x1="305.4" y1="406.8" x2="305.4" y2="411.8" stroke-width="1.45" stroke="#1c1c1c"/>
<line x1="314.3" y1="406.8" x2="314.3" y2="411.8" stroke-width="1.45" stroke="#1c1c1c"/>
<line x1="341.6" y1="406.8" x2="341.6" y2="411.8" stroke-width="1.45" stroke="#1c1c1c"/>
<circle cx="328.4" cy="379.6" r="5.3" stroke-width="1.9" fill="none" stroke="#1c1c1c"/>
<rect x="316.3" y="368.0" width="23.4" height="22.8" stroke-width="1.45" fill="none" stroke="#1c1c1c" stroke-dasharray="4 2.2"/>
<line x1="257.0" y1="379.6" x2="265.0" y2="379.6" stroke-width="1.45" stroke="#1c1c1c"/>
<line x1="268.0" y1="379.6" x2="282.5" y2="379.6" stroke-width="1.45" stroke="#1c1c1c"/>
<line x1="287.0" y1="379.6" x2="301.0" y2="379.6" stroke-width="1.45" stroke="#1c1c1c"/>
<line x1="304.0" y1="379.6" x2="313.0" y2="379.6" stroke-width="1.45" stroke="#1c1c1c"/>
<line x1="317.0" y1="379.6" x2="324.0" y2="379.6" stroke-width="1.45" stroke="#1c1c1c"/>
<line x1="332.0" y1="379.6" x2="340.0" y2="379.6" stroke-width="1.45" stroke="#1c1c1c"/>
<line x1="343.0" y1="379.6" x2="354.0" y2="379.6" stroke-width="1.45" stroke="#1c1c1c"/>
<line x1="357.0" y1="379.6" x2="368.0" y2="379.6" stroke-width="1.45" stroke="#1c1c1c"/>
<line x1="371.0" y1="379.6" x2="386.0" y2="379.6" stroke-width="1.45" stroke="#1c1c1c"/>
<line x1="328.4" y1="321.9" x2="328.4" y2="331.5" stroke-width="1.45" stroke="#1c1c1c"/>
<line x1="328.4" y1="334.5" x2="328.4" y2="348.0" stroke-width="1.45" stroke="#1c1c1c"/>
<line x1="328.4" y1="352.0" x2="328.4" y2="356.0" stroke-width="1.45" stroke="#1c1c1c"/>
<line x1="328.4" y1="365.5" x2="328.4" y2="373.0" stroke-width="1.45" stroke="#1c1c1c"/>
<line x1="328.4" y1="376.0" x2="328.4" y2="393.0" stroke-width="1.45" stroke="#1c1c1c"/>
<line x1="328.4" y1="397.0" x2="328.4" y2="406.0" stroke-width="1.45" stroke="#1c1c1c"/>
<line x1="328.4" y1="411.0" x2="328.4" y2="420.0" stroke-width="1.45" stroke="#1c1c1c"/>
<line x1="328.4" y1="424.0" x2="328.4" y2="438.0" stroke-width="1.45" stroke="#1c1c1c"/>
<line x1="291.8" y1="291.0" x2="291.8" y2="376.0" stroke-width="1.45" stroke="#1c1c1c"/>
<line x1="364.2" y1="291.0" x2="364.2" y2="375.0" stroke-width="1.45" stroke="#1c1c1c"/>
<line x1="287.5" y1="294.3" x2="368.5" y2="294.3" stroke-width="1.45" stroke="#1c1c1c"/>
<line x1="287.6" y1="298.5" x2="296.0" y2="290.1" stroke-width="1.4" stroke="#1c1c1c"/>
<line x1="360.0" y1="298.5" x2="368.4" y2="290.1" stroke-width="1.4" stroke="#1c1c1c"/>
<text x="316.0" y="291.8" font-size="13.41" font-weight="bold" font-style="normal" textLength="24.0" lengthAdjust="spacingAndGlyphs" stroke="#1c1c1c" stroke-width="0.15">160</text>
<line x1="328.4" y1="322.0" x2="328.4" y2="330.0" stroke-width="1.45" stroke="#1c1c1c"/>
<line x1="324.0" y1="325.4" x2="368.5" y2="325.4" stroke-width="1.45" stroke="#1c1c1c"/>
<line x1="324.2" y1="329.6" x2="332.6" y2="321.2" stroke-width="1.4" stroke="#1c1c1c"/>
<line x1="360.0" y1="329.6" x2="368.4" y2="321.2" stroke-width="1.4" stroke="#1c1c1c"/>
<text x="338.0" y="321.9" font-size="12.57" font-weight="bold" font-style="normal" textLength="16.5" lengthAdjust="spacingAndGlyphs" stroke="#1c1c1c" stroke-width="0.15">80</text>
<line x1="344.5" y1="346.0" x2="344.5" y2="356.0" stroke-width="1.45" stroke="#1c1c1c"/>
<line x1="344.5" y1="350.8" x2="368.5" y2="350.8" stroke-width="1.45" stroke="#1c1c1c"/>
<line x1="340.8" y1="355.0" x2="349.2" y2="346.6" stroke-width="1.4" stroke="#1c1c1c"/>
<line x1="360.0" y1="355.0" x2="368.4" y2="346.6" stroke-width="1.4" stroke="#1c1c1c"/>
<text x="347.0" y="340.3" font-size="13.13" font-weight="bold" font-style="normal" textLength="17.0" lengthAdjust="spacingAndGlyphs" stroke="#1c1c1c" stroke-width="0.15">40</text>
<line x1="351.0" y1="359.4" x2="378.0" y2="359.4" stroke-width="1.45" stroke="#1c1c1c"/>
<line x1="374.0" y1="355.0" x2="374.0" y2="383.5" stroke-width="1.45" stroke="#1c1c1c"/>
<line x1="369.8" y1="355.2" x2="378.2" y2="363.6" stroke-width="1.4" stroke="#1c1c1c"/>
<line x1="369.8" y1="375.4" x2="378.2" y2="383.8" stroke-width="1.4" stroke="#1c1c1c"/>
<text x="390.5" y="373.7" font-size="13.97" font-weight="bold" font-style="normal" textLength="15.8" lengthAdjust="spacingAndGlyphs" stroke="#1c1c1c" stroke-width="0.15">40</text>
<line x1="217.0" y1="359.3" x2="305.8" y2="359.3" stroke-width="1.45" stroke="#1c1c1c"/>
<line x1="217.0" y1="406.6" x2="287.8" y2="406.6" stroke-width="1.45" stroke="#1c1c1c"/>
<line x1="220.5" y1="355.0" x2="220.5" y2="377.0" stroke-width="1.45" stroke="#1c1c1c"/>
<line x1="220.5" y1="390.0" x2="220.5" y2="410.6" stroke-width="1.45" stroke="#1c1c1c"/>
<line x1="216.3" y1="355.1" x2="224.7" y2="363.5" stroke-width="1.4" stroke="#1c1c1c"/>
<line x1="216.3" y1="402.4" x2="224.7" y2="410.8" stroke-width="1.4" stroke="#1c1c1c"/>
<text x="208.9" y="388.0" font-size="14.66" font-weight="bold" font-style="normal" textLength="23.9" lengthAdjust="spacingAndGlyphs" stroke="#1c1c1c" stroke-width="0.15">105</text>
<line x1="258.8" y1="375.6" x2="258.8" y2="385.0" stroke-width="1.45" stroke="#1c1c1c"/>
<line x1="258.8" y1="398.5" x2="258.8" y2="411.0" stroke-width="1.45" stroke="#1c1c1c"/>
<line x1="254.6" y1="375.4" x2="263.0" y2="383.8" stroke-width="1.4" stroke="#1c1c1c"/>
<line x1="254.6" y1="402.4" x2="263.0" y2="410.8" stroke-width="1.4" stroke="#1c1c1c"/>
<text x="250.8" y="398.0" font-size="12.43" font-weight="bold" font-style="normal" textLength="15.9" lengthAdjust="spacingAndGlyphs" stroke="#1c1c1c" stroke-width="0.15">60</text>
<line x1="371.0" y1="439.3" x2="333.8" y2="384.2" stroke-width="1.3" stroke="#1c1c1c"/>
<path d="M333.8,384.2 L340.7,390.4 L337.0,392.9 Z" fill="#1c1c1c" stroke="#1c1c1c" stroke-width="0.8"/>
<text x="368.3" y="454.8" font-size="13.97" font-weight="bold" font-style="normal" textLength="50.0" lengthAdjust="spacingAndGlyphs" stroke="#1c1c1c" stroke-width="0.15">&#248;26mm</text>
<rect x="424.6" y="406.8" width="683.6" height="6.0" stroke-width="1.4" fill="none" stroke="#1c1c1c"/>
<line x1="460.9" y1="382.5" x2="460.9" y2="428.0" stroke-width="1.45" stroke="#1c1c1c"/>
<line x1="456.3" y1="406.8" x2="456.3" y2="412.8" stroke-width="1.35" stroke="#1c1c1c"/>
<line x1="465.5" y1="406.8" x2="465.5" y2="412.8" stroke-width="1.35" stroke="#1c1c1c"/>
<line x1="644.3" y1="382.5" x2="644.3" y2="428.0" stroke-width="1.45" stroke="#1c1c1c"/>
<line x1="639.7" y1="406.8" x2="639.7" y2="412.8" stroke-width="1.35" stroke="#1c1c1c"/>
<line x1="648.9" y1="406.8" x2="648.9" y2="412.8" stroke-width="1.35" stroke="#1c1c1c"/>
<line x1="888.6" y1="382.5" x2="888.6" y2="428.0" stroke-width="1.45" stroke="#1c1c1c"/>
<line x1="884.0" y1="406.8" x2="884.0" y2="412.8" stroke-width="1.35" stroke="#1c1c1c"/>
<line x1="893.2" y1="406.8" x2="893.2" y2="412.8" stroke-width="1.35" stroke="#1c1c1c"/>
<line x1="1072.3" y1="382.5" x2="1072.3" y2="428.0" stroke-width="1.45" stroke="#1c1c1c"/>
<line x1="1067.7" y1="406.8" x2="1067.7" y2="412.8" stroke-width="1.35" stroke="#1c1c1c"/>
<line x1="1076.9" y1="406.8" x2="1076.9" y2="412.8" stroke-width="1.35" stroke="#1c1c1c"/>
<rect x="531.0" y="359.2" width="6.0" height="47.6" stroke-width="1.4" fill="none" stroke="#1c1c1c"/>
<rect x="537.0" y="368.3" width="4.3" height="22.7" stroke-width="1.3" fill="none" stroke="#1c1c1c"/>
<line x1="531.0" y1="374.5" x2="541.3" y2="374.5" stroke-width="1.0" stroke="#1c1c1c"/>
<line x1="531.0" y1="385.0" x2="541.3" y2="385.0" stroke-width="1.0" stroke="#1c1c1c"/>
<rect x="573.3" y="359.2" width="6.0" height="47.6" stroke-width="1.4" fill="none" stroke="#1c1c1c"/>
<rect x="568.7" y="368.3" width="4.6" height="22.7" stroke-width="1.3" fill="none" stroke="#1c1c1c"/>
<line x1="568.7" y1="374.5" x2="579.3" y2="374.5" stroke-width="1.0" stroke="#1c1c1c"/>
<line x1="568.7" y1="385.0" x2="579.3" y2="385.0" stroke-width="1.0" stroke="#1c1c1c"/>
<rect x="954.3" y="359.2" width="5.7" height="47.6" stroke-width="1.4" fill="none" stroke="#1c1c1c"/>
<rect x="960.0" y="368.3" width="4.2" height="22.7" stroke-width="1.3" fill="none" stroke="#1c1c1c"/>
<line x1="954.3" y1="374.5" x2="964.2" y2="374.5" stroke-width="1.0" stroke="#1c1c1c"/>
<line x1="954.3" y1="385.0" x2="964.2" y2="385.0" stroke-width="1.0" stroke="#1c1c1c"/>
<rect x="996.5" y="359.2" width="5.5" height="47.6" stroke-width="1.4" fill="none" stroke="#1c1c1c"/>
<rect x="992.0" y="368.3" width="4.5" height="22.7" stroke-width="1.3" fill="none" stroke="#1c1c1c"/>
<line x1="992.0" y1="374.5" x2="1002.0" y2="374.5" stroke-width="1.0" stroke="#1c1c1c"/>
<line x1="992.0" y1="385.0" x2="1002.0" y2="385.0" stroke-width="1.0" stroke="#1c1c1c"/>
<line x1="493.6" y1="379.8" x2="521.0" y2="379.8" stroke-width="1.35" stroke="#1c1c1c"/>
<line x1="525.0" y1="379.8" x2="531.0" y2="379.8" stroke-width="1.35" stroke="#1c1c1c"/>
<line x1="541.3" y1="379.8" x2="568.7" y2="379.8" stroke-width="1.35" stroke="#1c1c1c"/>
<line x1="579.3" y1="379.8" x2="584.0" y2="379.8" stroke-width="1.35" stroke="#1c1c1c"/>
<line x1="588.0" y1="379.8" x2="610.2" y2="379.8" stroke-width="1.35" stroke="#1c1c1c"/>
<line x1="923.7" y1="379.8" x2="950.0" y2="379.8" stroke-width="1.35" stroke="#1c1c1c"/>
<line x1="964.2" y1="379.8" x2="992.0" y2="379.8" stroke-width="1.35" stroke="#1c1c1c"/>
<line x1="1002.0" y1="379.8" x2="1006.0" y2="379.8" stroke-width="1.35" stroke="#1c1c1c"/>
<line x1="1010.0" y1="379.8" x2="1040.0" y2="379.8" stroke-width="1.35" stroke="#1c1c1c"/>
<line x1="588.4" y1="334.5" x2="542.0" y2="367.4" stroke-width="1.3" stroke="#1c1c1c"/>
<path d="M542.0,367.4 L548.1,360.4 L550.6,364.0 Z" fill="#1c1c1c" stroke="#1c1c1c" stroke-width="0.8"/>
<text x="596.0" y="326.3" font-size="13.27" font-weight="bold" font-style="normal" textLength="64.7" lengthAdjust="spacingAndGlyphs" stroke="#1c1c1c" stroke-width="0.15">60x60x10</text>
<text x="596.0" y="341.6" font-size="13.27" font-weight="bold" font-style="normal" textLength="56.5" lengthAdjust="spacingAndGlyphs" stroke="#1c1c1c" stroke-width="0.15">BACKING</text>
<text x="596.0" y="356.3" font-size="13.27" font-weight="bold" font-style="normal" textLength="37.5" lengthAdjust="spacingAndGlyphs" stroke="#1c1c1c" stroke-width="0.15">PLATE</text>
<line x1="603.4" y1="438.2" x2="537.8" y2="400.5" stroke-width="1.3" stroke="#1c1c1c"/>
<path d="M537.8,400.5 L546.7,403.1 L544.5,406.9 Z" fill="#1c1c1c" stroke="#1c1c1c" stroke-width="0.8"/>
<line x1="603.4" y1="438.2" x2="579.0" y2="413.5" stroke-width="1.3" stroke="#1c1c1c"/>
<path d="M579.0,413.5 L586.9,418.4 L583.8,421.4 Z" fill="#1c1c1c" stroke="#1c1c1c" stroke-width="0.8"/>
<text x="602.0" y="452.5" font-size="14.66" font-weight="bold" font-style="normal" textLength="44.1" lengthAdjust="spacingAndGlyphs" stroke="#1c1c1c" stroke-width="0.15">160x12</text>
<text x="655.8" y="452.5" font-size="14.66" font-weight="bold" font-style="normal" textLength="32.7" lengthAdjust="spacingAndGlyphs" stroke="#1c1c1c" stroke-width="0.15">FLAT</text>
<path d="M194.8,470.4 L198.5,467.0 L206.5,464.5 L212.8,465.5 L216.9,463.7 L228.8,461.2" stroke-width="1.7" fill="none" stroke="#1c1c1c"/>
<line x1="199.9" y1="469.8" x2="216.3" y2="601.2" stroke-width="1.7" stroke="#1c1c1c"/>
<path d="M222.6,464.3 L243.2,627.5 L243.2,663.5" stroke-width="1.7" fill="none" stroke="#1c1c1c"/>
<path d="M55.7,491.0 L49.6,501.3 L50.5,506.0 L40.3,511.6 L38.2,520.9" stroke-width="1.7" fill="none" stroke="#1c1c1c"/>
<line x1="49.6" y1="501.3" x2="211.3" y2="571.4" stroke-width="1.7" stroke="#1c1c1c"/>
<line x1="38.5" y1="520.9" x2="216.4" y2="597.1" stroke-width="1.7" stroke="#1c1c1c"/>
<line x1="40.3" y1="557.0" x2="104.7" y2="549.0" stroke-width="1.7" stroke="#1c1c1c"/>
<line x1="148.5" y1="543.6" x2="207.5" y2="536.4" stroke-width="1.7" stroke="#1c1c1c"/>
<line x1="78.4" y1="620.8" x2="238.5" y2="600.1" stroke-width="1.7" stroke="#1c1c1c"/>
<path d="M39.3,553.9 L40.5,562.0 L48.5,588.9 L58.8,599.0 L77.4,615.7 L78.4,622.9" stroke-width="1.7" fill="none" stroke="#1c1c1c"/>
<line x1="168.0" y1="609.2" x2="171.0" y2="663.5" stroke-width="1.7" stroke="#1c1c1c"/>
<path d="M171.0,635.0 L195.6,653.1 L223.6,649.1 L242.2,626.0" stroke-width="1.9" fill="none" stroke="#1c1c1c"/>
<path d="M171.0,628.0 L188.6,611.0 L225.2,611.0 L241.2,626.0" stroke-width="1.6" fill="none" stroke-dasharray="5 2.5" stroke="#1c1c1c"/>
<rect x="194.8" y="620.0" width="23.6" height="22.6" stroke-width="1.3" fill="none" stroke="#1c1c1c" stroke-dasharray="4 2"/>
<circle cx="206.9" cy="631.3" r="5.3" stroke-width="1.9" fill="none" stroke="#1c1c1c"/>
<line x1="183.6" y1="631.3" x2="229.7" y2="631.3" stroke-width="1.45" stroke="#1c1c1c"/>
<line x1="206.9" y1="608.5" x2="206.9" y2="654.1" stroke-width="1.45" stroke="#1c1c1c"/>
<line x1="188.4" y1="634.0" x2="188.4" y2="652.0" stroke-width="1.45" stroke="#1c1c1c"/>
<line x1="224.6" y1="634.0" x2="224.6" y2="652.0" stroke-width="1.45" stroke="#1c1c1c"/>
<line x1="171.5" y1="658.6" x2="244.2" y2="658.6" stroke-width="1.4" stroke="#1c1c1c"/>
<line x1="171.0" y1="664.2" x2="244.2" y2="664.2" stroke-width="1.6" stroke="#1c1c1c"/>
<line x1="184.0" y1="653.6" x2="184.0" y2="664.0" stroke-width="1.45" stroke="#1c1c1c"/>
<line x1="184.0" y1="664.0" x2="184.0" y2="732.4" stroke-width="1.45" stroke-dasharray="5 2.2" stroke="#1c1c1c"/>
<line x1="188.4" y1="653.6" x2="188.4" y2="664.0" stroke-width="1.45" stroke="#1c1c1c"/>
<line x1="188.4" y1="664.0" x2="188.4" y2="732.4" stroke-width="1.45" stroke-dasharray="5 2.2" stroke="#1c1c1c"/>
<line x1="193.1" y1="653.6" x2="193.1" y2="664.0" stroke-width="1.45" stroke="#1c1c1c"/>
<line x1="193.1" y1="664.0" x2="193.1" y2="732.4" stroke-width="1.45" stroke-dasharray="5 2.2" stroke="#1c1c1c"/>
<line x1="220.1" y1="653.6" x2="220.1" y2="664.0" stroke-width="1.45" stroke="#1c1c1c"/>
<line x1="220.1" y1="664.0" x2="220.1" y2="732.4" stroke-width="1.45" stroke-dasharray="5 2.2" stroke="#1c1c1c"/>
<line x1="224.6" y1="653.6" x2="224.6" y2="664.0" stroke-width="1.45" stroke="#1c1c1c"/>
<line x1="224.6" y1="664.0" x2="224.6" y2="732.4" stroke-width="1.45" stroke-dasharray="5 2.2" stroke="#1c1c1c"/>
<line x1="229.2" y1="653.6" x2="229.2" y2="664.0" stroke-width="1.45" stroke="#1c1c1c"/>
<line x1="229.2" y1="664.0" x2="229.2" y2="732.4" stroke-width="1.45" stroke-dasharray="5 2.2" stroke="#1c1c1c"/>
<path d="M20,687.4 C35,681 40,678 47.4,675 C58,670 65,668.5 72.4,667.5 C80,666 86,665.2 92.4,665" stroke-width="1.6" fill="none" stroke-dasharray="7 4" stroke="#1c1c1c"/>
<line x1="92.4" y1="664.2" x2="352.2" y2="664.2" stroke-width="1.6" stroke-dasharray="12.5 4" stroke="#1c1c1c"/>
<line x1="369.0" y1="664.2" x2="424.6" y2="664.2" stroke-width="1.6" stroke-dasharray="11.5 4" stroke="#1c1c1c"/>
<line x1="105.6" y1="665.0" x2="105.6" y2="777.3" stroke-width="1.5" stroke-dasharray="8 3.5" stroke="#1c1c1c"/>
<line x1="307.9" y1="665.0" x2="307.9" y2="777.0" stroke-width="1.5" stroke-dasharray="8 3.5" stroke="#1c1c1c"/>
<path d="M93.6,781.0 L131.0,771.8 L159.3,780.3 L188.5,772.8 L219.7,779.8 L242.2,773.0 L268.4,784.3 L327.6,776.4" stroke-width="1.7" fill="none" stroke="#1c1c1c"/>
<path d="M128.4,679.0 L128.1,673.6 L132.9,676.0 Z" fill="#1c1c1c" stroke="#1c1c1c" stroke-width="1.3" stroke-linejoin="round"/>
<path d="M130.8,678.2 L134.8,679.7 L132.3,682.2 Z" fill="#1c1c1c" stroke="#1c1c1c" stroke-width="0.6"/>
<path d="M147.8,670.0 L142.9,667.8 L147.3,664.7 Z" fill="#1c1c1c" stroke="#1c1c1c" stroke-width="1.3" stroke-linejoin="round"/>
<path d="M171.7,680.0 L176.6,682.2 L172.2,685.3 Z" fill="#1c1c1c" stroke="#1c1c1c" stroke-width="1.3" stroke-linejoin="round"/>
<path d="M183.8,691.4 L178.4,691.7 L180.8,686.9 Z" fill="#1c1c1c" stroke="#1c1c1c" stroke-width="1.3" stroke-linejoin="round"/>
<path d="M186.7,684.3 L191.8,682.7 L190.6,688.0 Z" fill="#1c1c1c" stroke="#1c1c1c" stroke-width="1.3" stroke-linejoin="round"/>
<path d="M212.6,688.5 L213.7,683.3 L217.7,686.8 Z" fill="#1c1c1c" stroke="#1c1c1c" stroke-width="1.3" stroke-linejoin="round"/>
<path d="M231.3,673.6 L226.0,674.5 L227.9,669.4 Z" fill="#1c1c1c" stroke="#1c1c1c" stroke-width="1.3" stroke-linejoin="round"/>
<path d="M247.8,693.6 L252.6,691.1 L252.3,696.5 Z" fill="#1c1c1c" stroke="#1c1c1c" stroke-width="1.3" stroke-linejoin="round"/>
<path d="M251.9,695.7 L255.9,697.2 L253.4,699.7 Z" fill="#1c1c1c" stroke="#1c1c1c" stroke-width="0.6"/>
<path d="M266.4,695.7 L261.3,697.2 L262.5,692.0 Z" fill="#1c1c1c" stroke="#1c1c1c" stroke-width="1.3" stroke-linejoin="round"/>
<path d="M293.0,695.0 L296.1,690.6 L298.3,695.5 Z" fill="#1c1c1c" stroke="#1c1c1c" stroke-width="1.3" stroke-linejoin="round"/>
<path d="M135.1,710.5 L129.8,711.0 L132.0,706.1 Z" fill="#1c1c1c" stroke="#1c1c1c" stroke-width="1.3" stroke-linejoin="round"/>
<path d="M142.4,724.1 L137.0,723.8 L139.9,719.3 Z" fill="#1c1c1c" stroke="#1c1c1c" stroke-width="1.3" stroke-linejoin="round"/>
<path d="M164.5,733.3 L167.4,728.8 L169.9,733.6 Z" fill="#1c1c1c" stroke="#1c1c1c" stroke-width="1.3" stroke-linejoin="round"/>
<path d="M182.9,722.2 L183.2,727.5 L178.4,725.0 Z" fill="#1c1c1c" stroke="#1c1c1c" stroke-width="1.3" stroke-linejoin="round"/>
<path d="M216.9,715.9 L211.7,714.5 L215.5,710.7 Z" fill="#1c1c1c" stroke="#1c1c1c" stroke-width="1.3" stroke-linejoin="round"/>
<path d="M222.7,732.5 L219.3,728.3 L224.6,727.4 Z" fill="#1c1c1c" stroke="#1c1c1c" stroke-width="1.3" stroke-linejoin="round"/>
<path d="M294.4,715.7 L299.6,717.1 L295.8,720.9 Z" fill="#1c1c1c" stroke="#1c1c1c" stroke-width="1.3" stroke-linejoin="round"/>
<path d="M266.3,731.4 L262.8,735.4 L261.1,730.4 Z" fill="#1c1c1c" stroke="#1c1c1c" stroke-width="1.3" stroke-linejoin="round"/>
<path d="M246.4,736.0 L251.7,735.7 L249.2,740.5 Z" fill="#1c1c1c" stroke="#1c1c1c" stroke-width="1.3" stroke-linejoin="round"/>
<path d="M302.1,738.0 L304.2,733.0 L307.5,737.3 Z" fill="#1c1c1c" stroke="#1c1c1c" stroke-width="1.3" stroke-linejoin="round"/>
<path d="M139.9,739.4 L135.7,742.8 L134.9,737.5 Z" fill="#1c1c1c" stroke="#1c1c1c" stroke-width="1.3" stroke-linejoin="round"/>
<path d="M122.1,751.2 L116.8,752.4 L118.4,747.3 Z" fill="#1c1c1c" stroke="#1c1c1c" stroke-width="1.3" stroke-linejoin="round"/>
<path d="M109.3,759.2 L108.5,764.5 L104.3,761.1 Z" fill="#1c1c1c" stroke="#1c1c1c" stroke-width="1.3" stroke-linejoin="round"/>
<path d="M197.7,752.9 L196.3,747.7 L201.5,749.1 Z" fill="#1c1c1c" stroke="#1c1c1c" stroke-width="1.3" stroke-linejoin="round"/>
<path d="M199.5,751.9 L203.5,753.4 L201.0,755.9 Z" fill="#1c1c1c" stroke="#1c1c1c" stroke-width="0.6"/>
<path d="M202.9,758.4 L197.9,756.4 L202.2,753.1 Z" fill="#1c1c1c" stroke="#1c1c1c" stroke-width="1.3" stroke-linejoin="round"/>
<path d="M260.7,760.7 L255.4,759.5 L259.1,755.6 Z" fill="#1c1c1c" stroke="#1c1c1c" stroke-width="1.3" stroke-linejoin="round"/>
<path d="M282.2,762.7 L281.3,757.4 L286.4,759.3 Z" fill="#1c1c1c" stroke="#1c1c1c" stroke-width="1.3" stroke-linejoin="round"/>
<path d="M149.7,762.5 L150.3,767.8 L145.4,765.6 Z" fill="#1c1c1c" stroke="#1c1c1c" stroke-width="1.3" stroke-linejoin="round"/>
<path d="M154.8,776.4 L150.4,773.3 L155.3,771.1 Z" fill="#1c1c1c" stroke="#1c1c1c" stroke-width="1.3" stroke-linejoin="round"/>
<path d="M186.5,767.1 L191.9,767.0 L189.2,771.7 Z" fill="#1c1c1c" stroke="#1c1c1c" stroke-width="1.3" stroke-linejoin="round"/>
<path d="M227.7,769.9 L232.8,771.8 L228.6,775.2 Z" fill="#1c1c1c" stroke="#1c1c1c" stroke-width="1.3" stroke-linejoin="round"/>
<path d="M268.7,778.3 L270.0,773.1 L273.9,776.8 Z" fill="#1c1c1c" stroke="#1c1c1c" stroke-width="1.3" stroke-linejoin="round"/>
<rect x="216.5" y="673.8" width="1.5" height="1.5" fill="#1c1c1c" opacity="0.85"/>
<rect x="119.8" y="689.4" width="1.5" height="1.5" fill="#1c1c1c" opacity="0.85"/>
<rect x="242.7" y="713.6" width="1.5" height="1.5" fill="#1c1c1c" opacity="0.85"/>
<rect x="170.2" y="730.8" width="1.5" height="1.5" fill="#1c1c1c" opacity="0.85"/>
<rect x="197.7" y="699.7" width="1.5" height="1.5" fill="#1c1c1c" opacity="0.85"/>
<rect x="265.3" y="743.2" width="1.5" height="1.5" fill="#1c1c1c" opacity="0.85"/>
<rect x="156.3" y="729.6" width="1.5" height="1.5" fill="#1c1c1c" opacity="0.85"/>
<rect x="212.0" y="762.4" width="1.5" height="1.5" fill="#1c1c1c" opacity="0.85"/>
<rect x="252.4" y="698.4" width="1.5" height="1.5" fill="#1c1c1c" opacity="0.85"/>
<rect x="302.1" y="679.9" width="1.5" height="1.5" fill="#1c1c1c" opacity="0.85"/>
<rect x="190.8" y="749.5" width="1.5" height="1.5" fill="#1c1c1c" opacity="0.85"/>
<rect x="138.1" y="720.3" width="1.5" height="1.5" fill="#1c1c1c" opacity="0.85"/>
<rect x="115.8" y="739.8" width="1.5" height="1.5" fill="#1c1c1c" opacity="0.85"/>
<rect x="259.4" y="729.5" width="1.5" height="1.5" fill="#1c1c1c" opacity="0.85"/>
<rect x="281.3" y="701.2" width="1.5" height="1.5" fill="#1c1c1c" opacity="0.85"/>
<rect x="245.7" y="731.8" width="1.5" height="1.5" fill="#1c1c1c" opacity="0.85"/>
<rect x="222.8" y="716.7" width="1.5" height="1.5" fill="#1c1c1c" opacity="0.85"/>
<rect x="274.3" y="770.0" width="1.5" height="1.5" fill="#1c1c1c" opacity="0.85"/>
<rect x="201.9" y="739.4" width="1.5" height="1.5" fill="#1c1c1c" opacity="0.85"/>
<rect x="120.0" y="743.5" width="1.5" height="1.5" fill="#1c1c1c" opacity="0.85"/>
<rect x="236.1" y="775.2" width="1.5" height="1.5" fill="#1c1c1c" opacity="0.85"/>
<rect x="270.7" y="698.0" width="1.5" height="1.5" fill="#1c1c1c" opacity="0.85"/>
<rect x="184.4" y="739.9" width="1.5" height="1.5" fill="#1c1c1c" opacity="0.85"/>
<rect x="112.5" y="717.3" width="1.5" height="1.5" fill="#1c1c1c" opacity="0.85"/>
<rect x="141.3" y="679.8" width="1.5" height="1.5" fill="#1c1c1c" opacity="0.85"/>
<rect x="119.7" y="750.7" width="1.5" height="1.5" fill="#1c1c1c" opacity="0.85"/>
<rect x="133.6" y="694.0" width="1.5" height="1.5" fill="#1c1c1c" opacity="0.85"/>
<rect x="185.4" y="762.0" width="1.5" height="1.5" fill="#1c1c1c" opacity="0.85"/>
<rect x="124.0" y="716.0" width="1.5" height="1.5" fill="#1c1c1c" opacity="0.85"/>
<rect x="216.8" y="763.3" width="1.5" height="1.5" fill="#1c1c1c" opacity="0.85"/>
<rect x="270.2" y="761.2" width="1.5" height="1.5" fill="#1c1c1c" opacity="0.85"/>
<rect x="163.1" y="712.3" width="1.5" height="1.5" fill="#1c1c1c" opacity="0.85"/>
<rect x="179.0" y="763.4" width="1.5" height="1.5" fill="#1c1c1c" opacity="0.85"/>
<rect x="297.6" y="683.5" width="1.5" height="1.5" fill="#1c1c1c" opacity="0.85"/>
<rect x="142.9" y="692.3" width="1.5" height="1.5" fill="#1c1c1c" opacity="0.85"/>
<rect x="154.2" y="719.9" width="1.5" height="1.5" fill="#1c1c1c" opacity="0.85"/>
<rect x="224.6" y="695.6" width="1.5" height="1.5" fill="#1c1c1c" opacity="0.85"/>
<rect x="108.8" y="712.7" width="1.5" height="1.5" fill="#1c1c1c" opacity="0.85"/>
<rect x="181.1" y="728.7" width="1.5" height="1.5" fill="#1c1c1c" opacity="0.85"/>
<rect x="296.7" y="742.3" width="1.5" height="1.5" fill="#1c1c1c" opacity="0.85"/>
<rect x="210.1" y="734.3" width="1.5" height="1.5" fill="#1c1c1c" opacity="0.85"/>
<rect x="241.9" y="672.9" width="1.5" height="1.5" fill="#1c1c1c" opacity="0.85"/>
<rect x="286.1" y="752.0" width="1.5" height="1.5" fill="#1c1c1c" opacity="0.85"/>
<rect x="281.2" y="754.0" width="1.5" height="1.5" fill="#1c1c1c" opacity="0.85"/>
<rect x="185.7" y="710.5" width="1.5" height="1.5" fill="#1c1c1c" opacity="0.85"/>
<rect x="128.5" y="736.1" width="1.5" height="1.5" fill="#1c1c1c" opacity="0.85"/>
<rect x="120.3" y="674.3" width="1.5" height="1.5" fill="#1c1c1c" opacity="0.85"/>
<rect x="149.3" y="684.7" width="1.5" height="1.5" fill="#1c1c1c" opacity="0.85"/>
<rect x="175.3" y="672.7" width="1.5" height="1.5" fill="#1c1c1c" opacity="0.85"/>
<rect x="108.0" y="683.5" width="1.5" height="1.5" fill="#1c1c1c" opacity="0.85"/>
<rect x="128.1" y="706.6" width="1.5" height="1.5" fill="#1c1c1c" opacity="0.85"/>
<rect x="113.0" y="762.3" width="1.5" height="1.5" fill="#1c1c1c" opacity="0.85"/>
<rect x="229.6" y="683.2" width="1.5" height="1.5" fill="#1c1c1c" opacity="0.85"/>
<rect x="157.9" y="704.9" width="1.5" height="1.5" fill="#1c1c1c" opacity="0.85"/>
<rect x="180.1" y="680.4" width="1.5" height="1.5" fill="#1c1c1c" opacity="0.85"/>
<rect x="276.1" y="775.2" width="1.5" height="1.5" fill="#1c1c1c" opacity="0.85"/>
<rect x="200.3" y="719.7" width="1.5" height="1.5" fill="#1c1c1c" opacity="0.85"/>
<rect x="125.0" y="678.1" width="1.5" height="1.5" fill="#1c1c1c" opacity="0.85"/>
<rect x="175.8" y="695.9" width="1.5" height="1.5" fill="#1c1c1c" opacity="0.85"/>
<rect x="272.1" y="684.6" width="1.5" height="1.5" fill="#1c1c1c" opacity="0.85"/>
<rect x="112.6" y="770.7" width="1.5" height="1.5" fill="#1c1c1c" opacity="0.85"/>
<rect x="212.6" y="683.0" width="1.5" height="1.5" fill="#1c1c1c" opacity="0.85"/>
<rect x="215.5" y="669.9" width="1.5" height="1.5" fill="#1c1c1c" opacity="0.85"/>
<rect x="212.6" y="773.7" width="1.5" height="1.5" fill="#1c1c1c" opacity="0.85"/>
<rect x="278.9" y="742.9" width="1.5" height="1.5" fill="#1c1c1c" opacity="0.85"/>
<rect x="159.7" y="707.0" width="1.5" height="1.5" fill="#1c1c1c" opacity="0.85"/>
<rect x="141.1" y="751.1" width="1.5" height="1.5" fill="#1c1c1c" opacity="0.85"/>
<rect x="213.5" y="751.9" width="1.5" height="1.5" fill="#1c1c1c" opacity="0.85"/>
<rect x="173.3" y="691.3" width="1.5" height="1.5" fill="#1c1c1c" opacity="0.85"/>
<rect x="268.7" y="774.4" width="1.5" height="1.5" fill="#1c1c1c" opacity="0.85"/>
<rect x="276.8" y="754.9" width="1.5" height="1.5" fill="#1c1c1c" opacity="0.85"/>
<rect x="270.0" y="747.6" width="1.5" height="1.5" fill="#1c1c1c" opacity="0.85"/>
<rect x="152.9" y="723.4" width="1.5" height="1.5" fill="#1c1c1c" opacity="0.85"/>
<rect x="178.4" y="670.2" width="1.5" height="1.5" fill="#1c1c1c" opacity="0.85"/>
<rect x="113.5" y="697.5" width="1.5" height="1.5" fill="#1c1c1c" opacity="0.85"/>
<rect x="159.3" y="742.5" width="1.5" height="1.5" fill="#1c1c1c" opacity="0.85"/>
<rect x="297.4" y="715.7" width="1.5" height="1.5" fill="#1c1c1c" opacity="0.85"/>
<rect x="293.5" y="774.7" width="1.5" height="1.5" fill="#1c1c1c" opacity="0.85"/>
<rect x="297.1" y="706.7" width="1.5" height="1.5" fill="#1c1c1c" opacity="0.85"/>
<rect x="151.7" y="691.7" width="1.5" height="1.5" fill="#1c1c1c" opacity="0.85"/>
<rect x="146.9" y="689.3" width="1.5" height="1.5" fill="#1c1c1c" opacity="0.85"/>
<rect x="231.6" y="765.1" width="1.5" height="1.5" fill="#1c1c1c" opacity="0.85"/>
<rect x="274.4" y="719.3" width="1.5" height="1.5" fill="#1c1c1c" opacity="0.85"/>
<rect x="237.3" y="754.2" width="1.5" height="1.5" fill="#1c1c1c" opacity="0.85"/>
<rect x="124.8" y="739.0" width="1.5" height="1.5" fill="#1c1c1c" opacity="0.85"/>
<rect x="288.1" y="752.3" width="1.5" height="1.5" fill="#1c1c1c" opacity="0.85"/>
<rect x="256.5" y="719.1" width="1.5" height="1.5" fill="#1c1c1c" opacity="0.85"/>
<rect x="143.3" y="753.0" width="1.5" height="1.5" fill="#1c1c1c" opacity="0.85"/>
<rect x="173.8" y="754.3" width="1.5" height="1.5" fill="#1c1c1c" opacity="0.85"/>
<rect x="300.4" y="710.1" width="1.5" height="1.5" fill="#1c1c1c" opacity="0.85"/>
<rect x="187.5" y="770.2" width="1.5" height="1.5" fill="#1c1c1c" opacity="0.85"/>
<rect x="251.5" y="685.5" width="1.5" height="1.5" fill="#1c1c1c" opacity="0.85"/>
<rect x="133.2" y="683.5" width="1.5" height="1.5" fill="#1c1c1c" opacity="0.85"/>
<rect x="287.2" y="754.9" width="1.5" height="1.5" fill="#1c1c1c" opacity="0.85"/>
<rect x="136.9" y="757.1" width="1.5" height="1.5" fill="#1c1c1c" opacity="0.85"/>
<rect x="302.1" y="738.6" width="1.5" height="1.5" fill="#1c1c1c" opacity="0.85"/>
<rect x="177.4" y="726.8" width="1.5" height="1.5" fill="#1c1c1c" opacity="0.85"/>
<rect x="133.9" y="668.6" width="1.5" height="1.5" fill="#1c1c1c" opacity="0.85"/>
<rect x="300.2" y="737.8" width="1.5" height="1.5" fill="#1c1c1c" opacity="0.85"/>
<rect x="212.3" y="768.8" width="1.5" height="1.5" fill="#1c1c1c" opacity="0.85"/>
<rect x="193.9" y="762.0" width="1.5" height="1.5" fill="#1c1c1c" opacity="0.85"/>
<rect x="271.6" y="690.0" width="1.5" height="1.5" fill="#1c1c1c" opacity="0.85"/>
<rect x="157.9" y="698.9" width="1.5" height="1.5" fill="#1c1c1c" opacity="0.85"/>
<rect x="155.6" y="730.9" width="1.5" height="1.5" fill="#1c1c1c" opacity="0.85"/>
<rect x="159.4" y="712.7" width="1.5" height="1.5" fill="#1c1c1c" opacity="0.85"/>
<rect x="134.0" y="766.2" width="1.5" height="1.5" fill="#1c1c1c" opacity="0.85"/>
<rect x="178.0" y="716.9" width="1.5" height="1.5" fill="#1c1c1c" opacity="0.85"/>
<rect x="223.5" y="765.6" width="1.5" height="1.5" fill="#1c1c1c" opacity="0.85"/>
<rect x="191.3" y="767.0" width="1.5" height="1.5" fill="#1c1c1c" opacity="0.85"/>
<rect x="207.3" y="725.0" width="1.5" height="1.5" fill="#1c1c1c" opacity="0.85"/>
<rect x="211.7" y="669.0" width="1.5" height="1.5" fill="#1c1c1c" opacity="0.85"/>
<rect x="195.1" y="687.0" width="1.5" height="1.5" fill="#1c1c1c" opacity="0.85"/>
<rect x="108.8" y="754.1" width="1.5" height="1.5" fill="#1c1c1c" opacity="0.85"/>
<rect x="142.1" y="718.6" width="1.5" height="1.5" fill="#1c1c1c" opacity="0.85"/>
<rect x="251.6" y="727.7" width="1.5" height="1.5" fill="#1c1c1c" opacity="0.85"/>
<rect x="172.5" y="723.5" width="1.5" height="1.5" fill="#1c1c1c" opacity="0.85"/>
<rect x="218.0" y="752.5" width="1.5" height="1.5" fill="#1c1c1c" opacity="0.85"/>
<rect x="129.0" y="728.1" width="1.5" height="1.5" fill="#1c1c1c" opacity="0.85"/>
<rect x="157.2" y="697.2" width="1.5" height="1.5" fill="#1c1c1c" opacity="0.85"/>
<rect x="260.9" y="722.3" width="1.5" height="1.5" fill="#1c1c1c" opacity="0.85"/>
<rect x="219.2" y="749.8" width="1.5" height="1.5" fill="#1c1c1c" opacity="0.85"/>
<rect x="288.7" y="715.3" width="1.5" height="1.5" fill="#1c1c1c" opacity="0.85"/>
<rect x="229.3" y="722.1" width="1.5" height="1.5" fill="#1c1c1c" opacity="0.85"/>
<rect x="209.4" y="742.5" width="1.5" height="1.5" fill="#1c1c1c" opacity="0.85"/>
<rect x="197.6" y="725.1" width="1.5" height="1.5" fill="#1c1c1c" opacity="0.85"/>
<rect x="202.7" y="769.6" width="1.5" height="1.5" fill="#1c1c1c" opacity="0.85"/>
<rect x="246.4" y="762.5" width="1.5" height="1.5" fill="#1c1c1c" opacity="0.85"/>
<rect x="294.6" y="695.3" width="1.5" height="1.5" fill="#1c1c1c" opacity="0.85"/>
<rect x="218.8" y="769.8" width="1.5" height="1.5" fill="#1c1c1c" opacity="0.85"/>
<rect x="274.3" y="681.9" width="1.5" height="1.5" fill="#1c1c1c" opacity="0.85"/>
<line x1="346.3" y1="756.2" x2="289.4" y2="737.1" stroke-width="1.3" stroke="#1c1c1c"/>
<path d="M289.4,737.1 L298.6,737.9 L297.2,742.0 Z" fill="#1c1c1c" stroke="#1c1c1c" stroke-width="0.8"/>
<text x="353.3" y="741.8" font-size="14.39" font-weight="bold" font-style="normal" textLength="68.4" lengthAdjust="spacingAndGlyphs" stroke="#1c1c1c" stroke-width="0.15">CONCRETE</text>
<text x="353.3" y="756.9" font-size="14.39" font-weight="bold" font-style="normal" textLength="43.7" lengthAdjust="spacingAndGlyphs" stroke="#1c1c1c" stroke-width="0.15">SHORE</text>
<text x="353.3" y="772.1" font-size="14.39" font-weight="bold" font-style="normal" textLength="67.9" lengthAdjust="spacingAndGlyphs" stroke="#1c1c1c" stroke-width="0.15">ABUTMENT</text>
<text x="306.7" y="505.0" font-size="14.11" font-weight="bold" font-style="normal" textLength="108.6" lengthAdjust="spacingAndGlyphs" stroke="#1c1c1c" stroke-width="0.15">NOTE&#8211;SEPERATE</text>
<text x="425.0" y="505.0" font-size="14.11" font-weight="bold" font-style="normal" textLength="39.8" lengthAdjust="spacingAndGlyphs" stroke="#1c1c1c" stroke-width="0.15">HINGE</text>
<text x="306.7" y="519.8" font-size="14.11" font-weight="bold" font-style="normal" textLength="33.6" lengthAdjust="spacingAndGlyphs" stroke="#1c1c1c" stroke-width="0.15">BASE</text>
<text x="350.0" y="519.8" font-size="14.11" font-weight="bold" font-style="normal" textLength="35.6" lengthAdjust="spacingAndGlyphs" stroke="#1c1c1c" stroke-width="0.15">FROM</text>
<text x="395.2" y="519.8" font-size="14.11" font-weight="bold" font-style="normal" textLength="67.8" lengthAdjust="spacingAndGlyphs" stroke="#1c1c1c" stroke-width="0.15">CONCRETE</text>
<text x="306.7" y="534.7" font-size="14.11" font-weight="bold" font-style="normal" textLength="69.6" lengthAdjust="spacingAndGlyphs" stroke="#1c1c1c" stroke-width="0.15">ABUTMENT</text>
<text x="386.0" y="534.7" font-size="14.11" font-weight="bold" font-style="normal" textLength="31.7" lengthAdjust="spacingAndGlyphs" stroke="#1c1c1c" stroke-width="0.15">WITH</text>
<text x="427.4" y="534.7" font-size="14.11" font-weight="bold" font-style="normal" textLength="29.0" lengthAdjust="spacingAndGlyphs" stroke="#1c1c1c" stroke-width="0.15">3mm</text>
<text x="306.7" y="549.9" font-size="14.11" font-weight="bold" font-style="normal" textLength="67.0" lengthAdjust="spacingAndGlyphs" stroke="#1c1c1c" stroke-width="0.15">INSERTION</text>
<text x="383.4" y="549.9" font-size="14.11" font-weight="bold" font-style="normal" textLength="52.6" lengthAdjust="spacingAndGlyphs" stroke="#1c1c1c" stroke-width="0.15">RUBBER</text>
<text x="398.1" y="575.0" font-size="14.53" font-weight="bold" font-style="normal" textLength="26.9" lengthAdjust="spacingAndGlyphs" stroke="#1c1c1c" stroke-width="0.15">M16</text>
<text x="443.0" y="575.0" font-size="14.53" font-weight="bold" font-style="normal" textLength="42.5" lengthAdjust="spacingAndGlyphs" stroke="#1c1c1c" stroke-width="0.15">STUDS</text>
<text x="398.1" y="589.5" font-size="14.53" font-weight="bold" font-style="normal" textLength="25.4" lengthAdjust="spacingAndGlyphs" stroke="#1c1c1c" stroke-width="0.15">304</text>
<text x="433.4" y="589.5" font-size="14.53" font-weight="bold" font-style="normal" textLength="17.6" lengthAdjust="spacingAndGlyphs" stroke="#1c1c1c" stroke-width="0.15">OR</text>
<text x="460.0" y="589.5" font-size="14.53" font-weight="bold" font-style="normal" textLength="25.8" lengthAdjust="spacingAndGlyphs" stroke="#1c1c1c" stroke-width="0.15">316</text>
<text x="398.1" y="604.3" font-size="14.66" font-weight="bold" font-style="normal" textLength="16.8" lengthAdjust="spacingAndGlyphs" stroke="#1c1c1c" stroke-width="0.15">SS</text>
<line x1="424.6" y1="598.7" x2="460.2" y2="653.5" stroke-width="1.3" stroke="#1c1c1c"/>
<path d="M460.2,653.5 L453.5,647.2 L457.1,644.8 Z" fill="#1c1c1c" stroke="#1c1c1c" stroke-width="0.8"/>
<rect x="424.6" y="658.7" width="682.9" height="5.6" stroke-width="1.4" fill="none" stroke="#1c1c1c"/>
<line x1="1107.5" y1="664.4" x2="1163.7" y2="664.4" stroke-width="1.6" stroke-dasharray="12 4" stroke="#1c1c1c"/>
<path d="M509.5,495.2 L519.0,493.0 L542.3,490.6 L548.7,495.9 L557.1,497.4 L563.9,495.9 L574.1,493.8" stroke-width="1.5" fill="none" stroke="#1c1c1c"/>
<line x1="519.0" y1="489.5" x2="519.0" y2="599.7" stroke-width="1.5" stroke="#1c1c1c"/>
<line x1="563.9" y1="489.5" x2="563.9" y2="599.7" stroke-width="1.5" stroke="#1c1c1c"/>
<path d="M959.4,494.8 L969.1,496.0 L985.0,497.4 L990.0,492.2 L1008.0,491.7 L1013.6,493.0 L1022.0,496.0" stroke-width="1.5" fill="none" stroke="#1c1c1c"/>
<line x1="969.1" y1="489.5" x2="969.1" y2="599.7" stroke-width="1.5" stroke="#1c1c1c"/>
<line x1="1013.6" y1="489.5" x2="1013.6" y2="599.7" stroke-width="1.5" stroke="#1c1c1c"/>
<rect x="563.9" y="531.6" width="22.4" height="68.1" stroke-width="1.5" fill="none" stroke="#1c1c1c"/>
<rect x="946.0" y="532.0" width="23.1" height="67.7" stroke-width="1.5" fill="none" stroke="#1c1c1c"/>
<line x1="586.3" y1="537.2" x2="946.0" y2="537.2" stroke-width="1.5" stroke="#1c1c1c"/>
<line x1="586.3" y1="554.8" x2="946.0" y2="554.8" stroke-width="1.5" stroke="#1c1c1c"/>
<line x1="519.0" y1="599.7" x2="1013.6" y2="599.7" stroke-width="1.5" stroke="#1c1c1c"/>
<rect x="518.6" y="599.7" width="72.8" height="5.5" stroke-width="1.4" fill="none" stroke="#1c1c1c"/>
<rect x="941.4" y="600.2" width="72.2" height="5.3" stroke-width="1.4" fill="none" stroke="#1c1c1c"/>
<rect x="511.6" y="626.2" width="509.2" height="11.7" stroke-width="1.4" fill="none" stroke="#1c1c1c"/>
<rect x="523.3" y="605.2" width="5.3" height="45.2" stroke-width="1.4" fill="#fff" stroke="#1c1c1c"/>
<rect x="530.7" y="611.2" width="5.7" height="47.5" stroke-width="1.4" fill="#fff" stroke="#1c1c1c"/>
<rect x="536.4" y="620.7" width="4.4" height="22.3" stroke-width="1.4" fill="#fff" stroke="#1c1c1c"/>
<rect x="581.5" y="605.2" width="4.8" height="45.2" stroke-width="1.4" fill="#fff" stroke="#1c1c1c"/>
<rect x="573.0" y="611.2" width="5.7" height="47.5" stroke-width="1.4" fill="#fff" stroke="#1c1c1c"/>
<rect x="568.1" y="620.7" width="4.9" height="22.3" stroke-width="1.4" fill="#fff" stroke="#1c1c1c"/>
<rect x="946.0" y="605.2" width="5.2" height="45.2" stroke-width="1.4" fill="#fff" stroke="#1c1c1c"/>
<rect x="953.7" y="611.2" width="5.7" height="47.5" stroke-width="1.4" fill="#fff" stroke="#1c1c1c"/>
<rect x="959.4" y="620.7" width="4.6" height="22.3" stroke-width="1.4" fill="#fff" stroke="#1c1c1c"/>
<rect x="1003.4" y="605.2" width="5.9" height="45.2" stroke-width="1.4" fill="#fff" stroke="#1c1c1c"/>
<rect x="995.2" y="611.2" width="5.9" height="47.5" stroke-width="1.4" fill="#fff" stroke="#1c1c1c"/>
<rect x="991.4" y="620.7" width="3.8" height="22.3" stroke-width="1.4" fill="#fff" stroke="#1c1c1c"/>
<line x1="460.2" y1="634.5" x2="460.2" y2="658.7" stroke-width="1.45" stroke="#1c1c1c"/>
<line x1="455.6" y1="658.7" x2="455.6" y2="717.0" stroke-width="1.45" stroke-dasharray="6 2" stroke="#1c1c1c"/>
<line x1="460.2" y1="658.7" x2="460.2" y2="717.0" stroke-width="1.45" stroke-dasharray="5 2" stroke="#1c1c1c"/>
<line x1="464.8" y1="658.7" x2="464.8" y2="717.0" stroke-width="1.45" stroke-dasharray="6 2" stroke="#1c1c1c"/>
<line x1="643.8" y1="634.5" x2="643.8" y2="658.7" stroke-width="1.45" stroke="#1c1c1c"/>
<line x1="639.2" y1="658.7" x2="639.2" y2="724.5" stroke-width="1.45" stroke-dasharray="6 2" stroke="#1c1c1c"/>
<line x1="643.8" y1="658.7" x2="643.8" y2="724.5" stroke-width="1.45" stroke-dasharray="5 2" stroke="#1c1c1c"/>
<line x1="648.4" y1="658.7" x2="648.4" y2="724.5" stroke-width="1.45" stroke-dasharray="6 2" stroke="#1c1c1c"/>
<line x1="888.2" y1="634.5" x2="888.2" y2="658.7" stroke-width="1.45" stroke="#1c1c1c"/>
<line x1="883.6" y1="658.7" x2="883.6" y2="717.0" stroke-width="1.45" stroke-dasharray="6 2" stroke="#1c1c1c"/>
<line x1="888.2" y1="658.7" x2="888.2" y2="717.0" stroke-width="1.45" stroke-dasharray="5 2" stroke="#1c1c1c"/>
<line x1="892.8" y1="658.7" x2="892.8" y2="717.0" stroke-width="1.45" stroke-dasharray="6 2" stroke="#1c1c1c"/>
<line x1="1072.3" y1="634.5" x2="1072.3" y2="658.7" stroke-width="1.45" stroke="#1c1c1c"/>
<line x1="1067.7" y1="658.7" x2="1067.7" y2="697.5" stroke-width="1.45" stroke-dasharray="6 2" stroke="#1c1c1c"/>
<line x1="1072.3" y1="658.7" x2="1072.3" y2="697.5" stroke-width="1.45" stroke-dasharray="5 2" stroke="#1c1c1c"/>
<line x1="1076.9" y1="658.7" x2="1076.9" y2="697.5" stroke-width="1.45" stroke-dasharray="6 2" stroke="#1c1c1c"/>
<path d="M369.5,664.5 C375,671 380,676 385,680 C393,687 401,694 410,700 C417,705 424,709 432.4,712 C440,714.5 448,716 456.1,716.2 L464.8,716.9 L534.7,716.9 C552,717.5 568,718.5 584.7,720.4 C605,722 625,723 644.6,724.4 C665,726.5 688,730 708.7,731.8 C735,729.5 765,726 791,723.4 C815,721 840,718.5 866,716.9 L883.8,717.8 L891.7,717.2 C908,718.5 925,720 938.5,720.7 L973.6,720.7 C990,719 1005,717.5 1020.4,715.4 C1028,713 1036,710.5 1043.8,707.9 C1053,704 1062,700 1071.9,696.2 C1078,694 1084,691.5 1090.6,689.1 C1096,686 1102,682 1107,678.6 C1110,676 1112,675 1114,672.8 C1117,669 1119,667 1121,664.6" stroke-width="1.6" fill="none" stroke-dasharray="12 4.5" stroke="#1c1c1c"/>
<text x="1006.9" y="469.6" font-size="14.39" font-weight="bold" font-style="normal" textLength="61.1" lengthAdjust="spacingAndGlyphs" stroke="#1c1c1c" stroke-width="0.15">GANGWAY</text>
<line x1="1004.2" y1="471.8" x2="928.6" y2="543.4" stroke-width="1.3" stroke="#1c1c1c"/>
<path d="M928.6,543.4 L933.6,535.6 L936.6,538.8 Z" fill="#1c1c1c" stroke="#1c1c1c" stroke-width="0.8"/>
<text x="1054.5" y="548.5" font-size="14.80" font-weight="bold" font-style="normal" textLength="38.4" lengthAdjust="spacingAndGlyphs" stroke="#1c1c1c" stroke-width="0.15">HINGE</text>
<text x="1102.9" y="548.5" font-size="14.80" font-weight="bold" font-style="normal" textLength="20.2" lengthAdjust="spacingAndGlyphs" stroke="#1c1c1c" stroke-width="0.15">PIN</text>
<text x="1054.5" y="563.1" font-size="14.80" font-weight="bold" font-style="normal" textLength="24.2" lengthAdjust="spacingAndGlyphs" stroke="#1c1c1c" stroke-width="0.15">&#248;25</text>
<text x="1088.7" y="563.1" font-size="14.80" font-weight="bold" font-style="normal" textLength="42.3" lengthAdjust="spacingAndGlyphs" stroke="#1c1c1c" stroke-width="0.15">304SS</text>
<line x1="1053.0" y1="554.7" x2="976.0" y2="626.7" stroke-width="1.3" stroke="#1c1c1c"/>
<path d="M976.0,626.7 L981.1,618.9 L984.1,622.2 Z" fill="#1c1c1c" stroke="#1c1c1c" stroke-width="0.8"/>
<text x="1109.1" y="592.7" font-size="13.97" font-weight="bold" font-style="normal" textLength="38.0" lengthAdjust="spacingAndGlyphs" stroke="#1c1c1c" stroke-width="0.15">HINGE</text>
<text x="1109.1" y="607.4" font-size="13.97" font-weight="bold" font-style="normal" textLength="58.3" lengthAdjust="spacingAndGlyphs" stroke="#1c1c1c" stroke-width="0.15">BRACKET</text>
<line x1="1107.5" y1="585.0" x2="1031.2" y2="658.2" stroke-width="1.3" stroke="#1c1c1c"/>
<path d="M1031.2,658.2 L1036.2,650.4 L1039.2,653.6 Z" fill="#1c1c1c" stroke="#1c1c1c" stroke-width="0.8"/>
<text x="1147.1" y="631.7" font-size="13.97" font-weight="bold" font-style="normal" textLength="43.7" lengthAdjust="spacingAndGlyphs" stroke="#1c1c1c" stroke-width="0.15">SHORE</text>
<text x="1147.1" y="647.3" font-size="13.97" font-weight="bold" font-style="normal" textLength="67.9" lengthAdjust="spacingAndGlyphs" stroke="#1c1c1c" stroke-width="0.15">ABUTMENT</text>
<line x1="1145.0" y1="646.4" x2="1090.4" y2="673.8" stroke-width="1.3" stroke="#1c1c1c"/>
<path d="M1090.4,673.8 L1097.5,667.8 L1099.4,671.7 Z" fill="#1c1c1c" stroke="#1c1c1c" stroke-width="0.8"/>
</svg></body></html>
